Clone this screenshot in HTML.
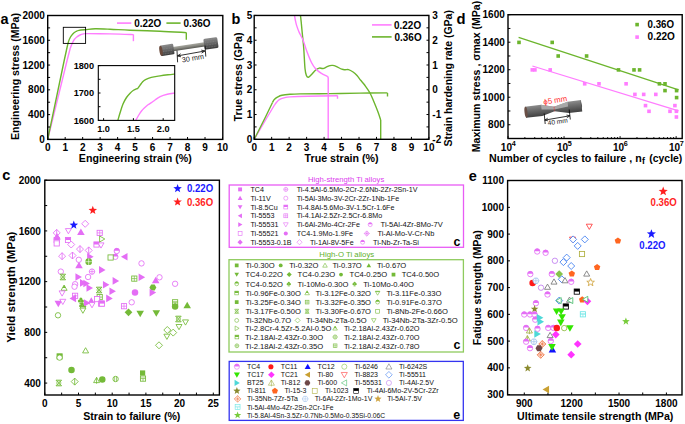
<!DOCTYPE html>
<html><head><meta charset="utf-8"><style>html,body{margin:0;padding:0;background:#fff;overflow:hidden}svg text{font-family:"Liberation Sans",sans-serif}</style></head><body>
<svg width="685" height="424" viewBox="0 0 685 424" style="display:block">
<rect width="685" height="424" fill="#fff"/>
<g font-family="Liberation Sans, sans-serif">
<path d="M47.70,139.40 L67.20,60.00 L70.30,48.00" stroke="#ff7dff" stroke-width="1.4" fill="none" stroke-linejoin="round" stroke-linecap="butt" />
<path d="M70.30,48.00 C70.65,47.17 71.73,44.42 72.40,43.00 C73.07,41.58 73.62,40.47 74.30,39.50 C74.98,38.53 75.55,37.95 76.50,37.20 C77.45,36.45 78.83,35.55 80.00,35.00 C81.17,34.45 82.50,34.13 83.50,33.90 C84.50,33.67 83.25,33.63 86.00,33.60 C88.75,33.57 94.33,33.62 100.00,33.70 C105.67,33.78 114.43,33.95 120.00,34.10 C125.57,34.25 131.17,34.52 133.40,34.60" stroke="#ff7dff" stroke-width="1.4" fill="none" stroke-linejoin="round"/>
<path d="M133.40,34.40 L133.40,41.20" stroke="#ff7dff" stroke-width="1.4" fill="none" stroke-linejoin="round" stroke-linecap="butt" />
<path d="M47.70,139.40 L64.30,60.00 L66.50,50.00" stroke="#6cb52d" stroke-width="1.4" fill="none" stroke-linejoin="round" stroke-linecap="butt" />
<path d="M66.50,50.00 C66.82,48.65 67.73,44.07 68.40,41.90 C69.07,39.73 69.73,38.37 70.50,37.00 C71.27,35.63 72.08,34.62 73.00,33.70 C73.92,32.78 75.02,32.05 76.00,31.50 C76.98,30.95 77.25,30.72 78.90,30.40 C80.55,30.08 83.18,29.87 85.90,29.60 C88.62,29.33 91.18,28.87 95.20,28.80 C99.22,28.73 104.20,28.97 110.00,29.20 C115.80,29.43 121.67,29.87 130.00,30.20 C138.33,30.53 150.62,30.80 160.00,31.20 C169.38,31.60 181.92,32.37 186.30,32.60" stroke="#6cb52d" stroke-width="1.4" fill="none" stroke-linejoin="round"/>
<path d="M186.30,32.40 L186.30,39.80" stroke="#6cb52d" stroke-width="1.4" fill="none" stroke-linejoin="round" stroke-linecap="butt" />
<rect x="63.30" y="27.30" width="22.30" height="16.10" stroke="#000" stroke-width="0.9" fill="none"/>
<rect x="47.70" y="15.50" width="175.10" height="123.90" stroke="#000" stroke-width="1.4" fill="none"/>
<line x1="47.70" y1="139.40" x2="47.70" y2="137.00" stroke="#000" stroke-width="1.0" />
<line x1="65.18" y1="139.40" x2="65.18" y2="137.00" stroke="#000" stroke-width="1.0" />
<line x1="82.66" y1="139.40" x2="82.66" y2="137.00" stroke="#000" stroke-width="1.0" />
<line x1="100.14" y1="139.40" x2="100.14" y2="137.00" stroke="#000" stroke-width="1.0" />
<line x1="117.62" y1="139.40" x2="117.62" y2="137.00" stroke="#000" stroke-width="1.0" />
<line x1="135.10" y1="139.40" x2="135.10" y2="137.00" stroke="#000" stroke-width="1.0" />
<line x1="152.58" y1="139.40" x2="152.58" y2="137.00" stroke="#000" stroke-width="1.0" />
<line x1="170.06" y1="139.40" x2="170.06" y2="137.00" stroke="#000" stroke-width="1.0" />
<line x1="187.54" y1="139.40" x2="187.54" y2="137.00" stroke="#000" stroke-width="1.0" />
<line x1="205.02" y1="139.40" x2="205.02" y2="137.00" stroke="#000" stroke-width="1.0" />
<line x1="222.50" y1="139.40" x2="222.50" y2="137.00" stroke="#000" stroke-width="1.0" />
<line x1="47.70" y1="139.40" x2="50.10" y2="139.40" stroke="#000" stroke-width="1.0" />
<line x1="47.70" y1="127.01" x2="50.10" y2="127.01" stroke="#000" stroke-width="1.0" />
<line x1="47.70" y1="114.62" x2="50.10" y2="114.62" stroke="#000" stroke-width="1.0" />
<line x1="47.70" y1="102.23" x2="50.10" y2="102.23" stroke="#000" stroke-width="1.0" />
<line x1="47.70" y1="89.84" x2="50.10" y2="89.84" stroke="#000" stroke-width="1.0" />
<line x1="47.70" y1="77.45" x2="50.10" y2="77.45" stroke="#000" stroke-width="1.0" />
<line x1="47.70" y1="65.06" x2="50.10" y2="65.06" stroke="#000" stroke-width="1.0" />
<line x1="47.70" y1="52.67" x2="50.10" y2="52.67" stroke="#000" stroke-width="1.0" />
<line x1="47.70" y1="40.28" x2="50.10" y2="40.28" stroke="#000" stroke-width="1.0" />
<line x1="47.70" y1="27.89" x2="50.10" y2="27.89" stroke="#000" stroke-width="1.0" />
<line x1="47.70" y1="15.50" x2="50.10" y2="15.50" stroke="#000" stroke-width="1.0" />
<text x="44.80" y="143.00" font-size="10" font-weight="bold" fill="#000" text-anchor="end" >0</text>
<text x="44.80" y="118.22" font-size="10" font-weight="bold" fill="#000" text-anchor="end" >400</text>
<text x="44.80" y="93.44" font-size="10" font-weight="bold" fill="#000" text-anchor="end" >800</text>
<text x="44.80" y="68.66" font-size="10" font-weight="bold" fill="#000" text-anchor="end" >1200</text>
<text x="44.80" y="43.88" font-size="10" font-weight="bold" fill="#000" text-anchor="end" >1600</text>
<text x="44.80" y="19.10" font-size="10" font-weight="bold" fill="#000" text-anchor="end" >2000</text>
<text x="47.70" y="150.50" font-size="10" font-weight="bold" fill="#000" text-anchor="middle" >0</text>
<text x="65.18" y="150.50" font-size="10" font-weight="bold" fill="#000" text-anchor="middle" >1</text>
<text x="82.66" y="150.50" font-size="10" font-weight="bold" fill="#000" text-anchor="middle" >2</text>
<text x="100.14" y="150.50" font-size="10" font-weight="bold" fill="#000" text-anchor="middle" >3</text>
<text x="117.62" y="150.50" font-size="10" font-weight="bold" fill="#000" text-anchor="middle" >4</text>
<text x="135.10" y="150.50" font-size="10" font-weight="bold" fill="#000" text-anchor="middle" >5</text>
<text x="152.58" y="150.50" font-size="10" font-weight="bold" fill="#000" text-anchor="middle" >6</text>
<text x="170.06" y="150.50" font-size="10" font-weight="bold" fill="#000" text-anchor="middle" >7</text>
<text x="187.54" y="150.50" font-size="10" font-weight="bold" fill="#000" text-anchor="middle" >8</text>
<text x="205.02" y="150.50" font-size="10" font-weight="bold" fill="#000" text-anchor="middle" >9</text>
<text x="222.50" y="150.50" font-size="10" font-weight="bold" fill="#000" text-anchor="middle" >10</text>
<text x="78.80" y="161.50" font-size="10.6" font-weight="bold" fill="#000" textLength="113" lengthAdjust="spacingAndGlyphs" >Engineering strain (%)</text>
<text transform="translate(18.60,140.00) rotate(-90)" font-size="10.6" font-weight="bold" fill="#000" textLength="127" lengthAdjust="spacingAndGlyphs" >Engineering stress (MPa)</text>
<text x="0.60" y="23.60" font-size="14.5" font-weight="bold" fill="#000" >a</text>
<line x1="117.00" y1="23.10" x2="131.30" y2="23.10" stroke="#ff7dff" stroke-width="1.6" />
<text x="134.20" y="26.70" font-size="10" font-weight="bold" fill="#000" textLength="27" lengthAdjust="spacingAndGlyphs" >0.22O</text>
<line x1="166.40" y1="23.10" x2="180.60" y2="23.10" stroke="#6cb52d" stroke-width="1.6" />
<text x="183.50" y="26.70" font-size="10" font-weight="bold" fill="#000" textLength="27" lengthAdjust="spacingAndGlyphs" >0.36O</text>
<clipPath id="ci"><rect x="98.3" y="65.6" width="76.39999999999999" height="54.80000000000001"/></clipPath>
<g clip-path="url(#ci)">
<path d="M117.70,121.00 C118.08,119.67 119.12,115.83 120.00,113.00 C120.88,110.17 121.92,106.58 123.00,104.00 C124.08,101.42 125.32,99.30 126.50,97.50 C127.68,95.70 128.93,94.40 130.10,93.20 C131.27,92.00 132.47,91.03 133.50,90.30 C134.53,89.57 135.62,89.08 136.30,88.80 C136.98,88.52 136.98,89.18 137.60,88.60 C138.22,88.02 139.18,86.40 140.00,85.30 C140.82,84.20 141.58,82.95 142.50,82.00 C143.42,81.05 144.03,80.37 145.50,79.60 C146.97,78.83 148.88,78.02 151.30,77.40 C153.72,76.78 157.22,76.33 160.00,75.90 C162.78,75.47 165.50,75.12 168.00,74.80 C170.50,74.48 173.83,74.13 175.00,74.00" stroke="#6cb52d" stroke-width="1.4" fill="none" stroke-linejoin="round"/>
<path d="M135.40,121.00 C135.92,120.08 137.48,117.17 138.50,115.50 C139.52,113.83 140.53,112.25 141.50,111.00 C142.47,109.75 143.22,109.03 144.30,108.00 C145.38,106.97 146.83,105.68 148.00,104.80 C149.17,103.92 150.13,103.50 151.30,102.70 C152.47,101.90 153.52,101.02 155.00,100.00 C156.48,98.98 158.15,97.55 160.20,96.60 C162.25,95.65 164.83,94.90 167.30,94.30 C169.77,93.70 173.72,93.22 175.00,93.00" stroke="#ff7dff" stroke-width="1.4" fill="none" stroke-linejoin="round"/>
</g>
<rect x="98.30" y="65.60" width="76.40" height="54.80" stroke="#000" stroke-width="1.1" fill="none"/>
<line x1="103.60" y1="120.40" x2="103.60" y2="118.20" stroke="#000" stroke-width="1.0" />
<text x="103.60" y="131.60" font-size="9.2" font-weight="bold" fill="#000" text-anchor="middle" >1.0</text>
<line x1="133.40" y1="120.40" x2="133.40" y2="118.20" stroke="#000" stroke-width="1.0" />
<text x="133.40" y="131.60" font-size="9.2" font-weight="bold" fill="#000" text-anchor="middle" >1.5</text>
<line x1="163.20" y1="120.40" x2="163.20" y2="118.20" stroke="#000" stroke-width="1.0" />
<text x="163.20" y="131.60" font-size="9.2" font-weight="bold" fill="#000" text-anchor="middle" >2.0</text>
<line x1="98.30" y1="120.40" x2="100.50" y2="120.40" stroke="#000" stroke-width="1.0" />
<line x1="98.30" y1="106.70" x2="100.50" y2="106.70" stroke="#000" stroke-width="1.0" />
<line x1="98.30" y1="93.00" x2="100.50" y2="93.00" stroke="#000" stroke-width="1.0" />
<line x1="98.30" y1="79.30" x2="100.50" y2="79.30" stroke="#000" stroke-width="1.0" />
<line x1="98.30" y1="65.60" x2="100.50" y2="65.60" stroke="#000" stroke-width="1.0" />
<text x="94.10" y="123.80" font-size="9.2" font-weight="bold" fill="#000" text-anchor="end" >1600</text>
<text x="94.10" y="96.40" font-size="9.2" font-weight="bold" fill="#000" text-anchor="end" >1700</text>
<text x="94.10" y="69.00" font-size="9.2" font-weight="bold" fill="#000" text-anchor="end" >1800</text>
<clipPath id="cb"><rect x="254.2" y="15.45" width="174.7" height="123.85000000000001"/></clipPath>
<g clip-path="url(#cb)">
<path d="M254.20,139.30 L267.30,117.00 L274.50,105.00" stroke="#ff7dff" stroke-width="1.4" fill="none" stroke-linejoin="round" stroke-linecap="butt" />
<path d="M274.50,105.00 C274.75,104.67 275.33,103.78 276.00,103.00 C276.67,102.22 277.62,101.02 278.50,100.30 C279.38,99.58 280.22,99.15 281.30,98.70 C282.38,98.25 283.55,97.90 285.00,97.60 C286.45,97.30 286.23,97.13 290.00,96.90 C293.77,96.67 299.68,96.40 307.60,96.20 C315.52,96.00 332.52,95.78 337.50,95.70" stroke="#ff7dff" stroke-width="1.4" fill="none" stroke-linejoin="round"/>
<path d="M337.50,95.60 L337.50,98.80" stroke="#ff7dff" stroke-width="1.4" fill="none" stroke-linejoin="round" stroke-linecap="butt" />
<path d="M254.20,139.30 L265.50,117.00 L272.50,102.50" stroke="#6cb52d" stroke-width="1.4" fill="none" stroke-linejoin="round" stroke-linecap="butt" />
<path d="M272.50,102.50 C272.80,102.00 273.42,100.43 274.30,99.50 C275.18,98.57 276.52,97.62 277.80,96.90 C279.08,96.18 279.97,95.63 282.00,95.20 C284.03,94.77 287.00,94.52 290.00,94.30 C293.00,94.08 293.33,94.02 300.00,93.90 C306.67,93.78 320.00,93.73 330.00,93.60 C340.00,93.47 350.42,93.22 360.00,93.10 C369.58,92.98 382.92,92.93 387.50,92.90" stroke="#6cb52d" stroke-width="1.4" fill="none" stroke-linejoin="round"/>
<path d="M387.50,92.90 L387.50,96.50" stroke="#6cb52d" stroke-width="1.4" fill="none" stroke-linejoin="round" stroke-linecap="butt" />
<path d="M300.30,14.00 C300.45,15.33 300.88,18.90 301.20,22.00 C301.52,25.10 301.78,28.32 302.20,32.60 C302.62,36.88 303.23,41.72 303.70,47.70 C304.17,53.68 304.55,63.87 305.00,68.50 C305.45,73.13 305.82,74.05 306.40,75.50 C306.98,76.95 307.63,77.37 308.50,77.20 C309.37,77.03 310.45,75.65 311.60,74.50 C312.75,73.35 314.13,71.37 315.40,70.30 C316.67,69.23 317.95,68.40 319.20,68.10 C320.45,67.80 321.65,68.70 322.90,68.50 C324.15,68.30 325.52,67.38 326.70,66.90 C327.88,66.42 329.02,65.85 330.00,65.60 C330.98,65.35 331.58,65.27 332.60,65.40 C333.62,65.53 334.57,65.77 336.10,66.40 C337.63,67.03 340.32,68.63 341.80,69.20 C343.28,69.77 343.88,69.73 345.00,69.80 C346.12,69.87 347.15,69.23 348.50,69.60 C349.85,69.97 351.68,71.02 353.10,72.00 C354.52,72.98 355.73,74.12 357.00,75.50 C358.27,76.88 359.37,78.63 360.70,80.30 C362.03,81.97 363.45,83.38 365.00,85.50 C366.55,87.62 368.50,90.25 370.00,93.00 C371.50,95.75 372.67,98.83 374.00,102.00 C375.33,105.17 376.88,109.00 378.00,112.00 C379.12,115.00 380.25,118.67 380.70,120.00" stroke="#6cb52d" stroke-width="1.4" fill="none" stroke-linejoin="round"/>
<path d="M380.70,120.00 L380.70,141.00" stroke="#6cb52d" stroke-width="1.4" fill="none" stroke-linejoin="round" stroke-linecap="butt" />
<path d="M294.30,14.00 C294.47,15.00 294.93,18.15 295.30,20.00 C295.67,21.85 295.83,23.00 296.50,25.10 C297.17,27.20 298.20,30.08 299.30,32.60 C300.40,35.12 301.83,37.05 303.10,40.20 C304.37,43.35 305.48,47.73 306.90,51.50 C308.32,55.27 310.18,59.97 311.60,62.80 C313.02,65.63 313.83,66.77 315.40,68.50 C316.97,70.23 318.93,71.85 321.00,73.20 C323.07,74.55 326.67,76.03 327.80,76.60" stroke="#ff7dff" stroke-width="1.4" fill="none" stroke-linejoin="round"/>
<path d="M327.80,76.40 L328.20,78.00 L328.20,141.00" stroke="#ff7dff" stroke-width="1.4" fill="none" stroke-linejoin="round" stroke-linecap="butt" />
</g>
<rect x="254.20" y="15.45" width="174.70" height="123.85" stroke="#000" stroke-width="1.4" fill="none"/>
<line x1="254.20" y1="139.30" x2="254.20" y2="136.90" stroke="#000" stroke-width="1.0" />
<text x="254.20" y="150.50" font-size="10" font-weight="bold" fill="#000" text-anchor="middle" >0</text>
<line x1="271.67" y1="139.30" x2="271.67" y2="136.90" stroke="#000" stroke-width="1.0" />
<text x="271.67" y="150.50" font-size="10" font-weight="bold" fill="#000" text-anchor="middle" >1</text>
<line x1="289.14" y1="139.30" x2="289.14" y2="136.90" stroke="#000" stroke-width="1.0" />
<text x="289.14" y="150.50" font-size="10" font-weight="bold" fill="#000" text-anchor="middle" >2</text>
<line x1="306.61" y1="139.30" x2="306.61" y2="136.90" stroke="#000" stroke-width="1.0" />
<text x="306.61" y="150.50" font-size="10" font-weight="bold" fill="#000" text-anchor="middle" >3</text>
<line x1="324.08" y1="139.30" x2="324.08" y2="136.90" stroke="#000" stroke-width="1.0" />
<text x="324.08" y="150.50" font-size="10" font-weight="bold" fill="#000" text-anchor="middle" >4</text>
<line x1="341.55" y1="139.30" x2="341.55" y2="136.90" stroke="#000" stroke-width="1.0" />
<text x="341.55" y="150.50" font-size="10" font-weight="bold" fill="#000" text-anchor="middle" >5</text>
<line x1="359.02" y1="139.30" x2="359.02" y2="136.90" stroke="#000" stroke-width="1.0" />
<text x="359.02" y="150.50" font-size="10" font-weight="bold" fill="#000" text-anchor="middle" >6</text>
<line x1="376.49" y1="139.30" x2="376.49" y2="136.90" stroke="#000" stroke-width="1.0" />
<text x="376.49" y="150.50" font-size="10" font-weight="bold" fill="#000" text-anchor="middle" >7</text>
<line x1="393.96" y1="139.30" x2="393.96" y2="136.90" stroke="#000" stroke-width="1.0" />
<text x="393.96" y="150.50" font-size="10" font-weight="bold" fill="#000" text-anchor="middle" >8</text>
<line x1="411.43" y1="139.30" x2="411.43" y2="136.90" stroke="#000" stroke-width="1.0" />
<text x="411.43" y="150.50" font-size="10" font-weight="bold" fill="#000" text-anchor="middle" >9</text>
<line x1="428.90" y1="139.30" x2="428.90" y2="136.90" stroke="#000" stroke-width="1.0" />
<text x="428.90" y="150.50" font-size="10" font-weight="bold" fill="#000" text-anchor="middle" >10</text>
<line x1="254.20" y1="139.30" x2="256.60" y2="139.30" stroke="#000" stroke-width="1.0" />
<line x1="428.90" y1="139.30" x2="426.50" y2="139.30" stroke="#000" stroke-width="1.0" />
<line x1="254.20" y1="126.92" x2="256.60" y2="126.92" stroke="#000" stroke-width="1.0" />
<line x1="428.90" y1="126.92" x2="426.50" y2="126.92" stroke="#000" stroke-width="1.0" />
<line x1="254.20" y1="114.53" x2="256.60" y2="114.53" stroke="#000" stroke-width="1.0" />
<line x1="428.90" y1="114.53" x2="426.50" y2="114.53" stroke="#000" stroke-width="1.0" />
<line x1="254.20" y1="102.15" x2="256.60" y2="102.15" stroke="#000" stroke-width="1.0" />
<line x1="428.90" y1="102.15" x2="426.50" y2="102.15" stroke="#000" stroke-width="1.0" />
<line x1="254.20" y1="89.76" x2="256.60" y2="89.76" stroke="#000" stroke-width="1.0" />
<line x1="428.90" y1="89.76" x2="426.50" y2="89.76" stroke="#000" stroke-width="1.0" />
<line x1="254.20" y1="77.38" x2="256.60" y2="77.38" stroke="#000" stroke-width="1.0" />
<line x1="428.90" y1="77.38" x2="426.50" y2="77.38" stroke="#000" stroke-width="1.0" />
<line x1="254.20" y1="64.99" x2="256.60" y2="64.99" stroke="#000" stroke-width="1.0" />
<line x1="428.90" y1="64.99" x2="426.50" y2="64.99" stroke="#000" stroke-width="1.0" />
<line x1="254.20" y1="52.61" x2="256.60" y2="52.61" stroke="#000" stroke-width="1.0" />
<line x1="428.90" y1="52.61" x2="426.50" y2="52.61" stroke="#000" stroke-width="1.0" />
<line x1="254.20" y1="40.22" x2="256.60" y2="40.22" stroke="#000" stroke-width="1.0" />
<line x1="428.90" y1="40.22" x2="426.50" y2="40.22" stroke="#000" stroke-width="1.0" />
<line x1="254.20" y1="27.84" x2="256.60" y2="27.84" stroke="#000" stroke-width="1.0" />
<line x1="428.90" y1="27.84" x2="426.50" y2="27.84" stroke="#000" stroke-width="1.0" />
<line x1="254.20" y1="15.45" x2="256.60" y2="15.45" stroke="#000" stroke-width="1.0" />
<line x1="428.90" y1="15.45" x2="426.50" y2="15.45" stroke="#000" stroke-width="1.0" />
<text x="252.20" y="142.90" font-size="10" font-weight="bold" fill="#000" text-anchor="end" >0</text>
<text x="252.20" y="118.13" font-size="10" font-weight="bold" fill="#000" text-anchor="end" >1</text>
<text x="252.20" y="93.36" font-size="10" font-weight="bold" fill="#000" text-anchor="end" >2</text>
<text x="252.20" y="68.59" font-size="10" font-weight="bold" fill="#000" text-anchor="end" >3</text>
<text x="252.20" y="43.82" font-size="10" font-weight="bold" fill="#000" text-anchor="end" >4</text>
<text x="252.20" y="19.05" font-size="10" font-weight="bold" fill="#000" text-anchor="end" >5</text>
<text x="432.30" y="142.90" font-size="10" font-weight="bold" fill="#000" >-2</text>
<text x="432.30" y="118.13" font-size="10" font-weight="bold" fill="#000" >-1</text>
<text x="432.30" y="93.36" font-size="10" font-weight="bold" fill="#000" >0</text>
<text x="432.30" y="68.59" font-size="10" font-weight="bold" fill="#000" >1</text>
<text x="432.30" y="43.82" font-size="10" font-weight="bold" fill="#000" >2</text>
<text x="432.30" y="19.05" font-size="10" font-weight="bold" fill="#000" >3</text>
<text x="304.60" y="161.50" font-size="10.6" font-weight="bold" fill="#000" textLength="74" lengthAdjust="spacingAndGlyphs" >True strain (%)</text>
<text transform="translate(242.00,121.40) rotate(-90)" font-size="10.6" font-weight="bold" fill="#000" textLength="89" lengthAdjust="spacingAndGlyphs" >True stress (GPa)</text>
<text transform="translate(452.40,146.60) rotate(-90)" font-size="10.6" font-weight="bold" fill="#000" textLength="136.5" lengthAdjust="spacingAndGlyphs" >Strain hardening rate (GPa)</text>
<text x="231.50" y="23.60" font-size="14.5" font-weight="bold" fill="#000" >b</text>
<line x1="372.00" y1="24.90" x2="391.60" y2="24.90" stroke="#ff7dff" stroke-width="1.6" />
<text x="394.10" y="28.50" font-size="10" font-weight="bold" fill="#000" textLength="27" lengthAdjust="spacingAndGlyphs" >0.22O</text>
<line x1="372.00" y1="36.90" x2="391.60" y2="36.90" stroke="#6cb52d" stroke-width="1.6" />
<text x="394.60" y="40.50" font-size="10" font-weight="bold" fill="#000" textLength="27" lengthAdjust="spacingAndGlyphs" >0.36O</text>
<clipPath id="cd"><rect x="508.0" y="14.7" width="174.20000000000005" height="123.8"/></clipPath>
<path d="M518.60,37.40 L678.60,89.80" stroke="#6cb52d" stroke-width="1.3" fill="none" stroke-linejoin="round" stroke-linecap="butt" />
<path d="M532.40,66.00 L678.60,110.90" stroke="#ff7dff" stroke-width="1.3" fill="none" stroke-linejoin="round" stroke-linecap="butt" />
<rect x="517.20" y="40.60" width="3.6" height="3.6" fill="#6cb52d"/>
<rect x="550.40" y="40.60" width="3.6" height="3.6" fill="#6cb52d"/>
<rect x="556.40" y="54.20" width="3.6" height="3.6" fill="#6cb52d"/>
<rect x="584.80" y="54.20" width="3.6" height="3.6" fill="#6cb52d"/>
<rect x="616.70" y="68.10" width="3.6" height="3.6" fill="#6cb52d"/>
<rect x="632.20" y="68.10" width="3.6" height="3.6" fill="#6cb52d"/>
<rect x="637.80" y="68.10" width="3.6" height="3.6" fill="#6cb52d"/>
<rect x="657.60" y="82.00" width="3.6" height="3.6" fill="#6cb52d"/>
<rect x="663.20" y="82.00" width="3.6" height="3.6" fill="#6cb52d"/>
<rect x="663.20" y="88.80" width="3.6" height="3.6" fill="#6cb52d"/>
<rect x="674.80" y="88.80" width="3.6" height="3.6" fill="#6cb52d"/>
<rect x="674.80" y="95.80" width="3.6" height="3.6" fill="#6cb52d"/>
<rect x="530.50" y="68.10" width="3.6" height="3.6" fill="#ff7dff"/>
<rect x="533.10" y="68.10" width="3.6" height="3.6" fill="#ff7dff"/>
<rect x="548.40" y="68.10" width="3.6" height="3.6" fill="#ff7dff"/>
<rect x="582.90" y="82.00" width="3.6" height="3.6" fill="#ff7dff"/>
<rect x="597.20" y="82.00" width="3.6" height="3.6" fill="#ff7dff"/>
<rect x="624.30" y="82.00" width="3.6" height="3.6" fill="#ff7dff"/>
<rect x="633.10" y="92.60" width="3.6" height="3.6" fill="#ff7dff"/>
<rect x="641.90" y="92.60" width="3.6" height="3.6" fill="#ff7dff"/>
<rect x="654.00" y="92.60" width="3.6" height="3.6" fill="#ff7dff"/>
<rect x="643.70" y="103.80" width="3.6" height="3.6" fill="#ff7dff"/>
<rect x="647.20" y="109.50" width="3.6" height="3.6" fill="#ff7dff"/>
<rect x="673.10" y="103.80" width="3.6" height="3.6" fill="#ff7dff"/>
<rect x="668.20" y="109.50" width="3.6" height="3.6" fill="#ff7dff"/>
<rect x="674.60" y="109.50" width="3.6" height="3.6" fill="#ff7dff"/>
<rect x="674.60" y="115.20" width="3.6" height="3.6" fill="#ff7dff"/>
<rect x="508.00" y="14.70" width="174.20" height="123.80" stroke="#000" stroke-width="1.4" fill="none"/>
<line x1="508.00" y1="138.50" x2="510.40" y2="138.50" stroke="#000" stroke-width="1.0" />
<line x1="508.00" y1="124.74" x2="510.40" y2="124.74" stroke="#000" stroke-width="1.0" />
<line x1="508.00" y1="110.99" x2="510.40" y2="110.99" stroke="#000" stroke-width="1.0" />
<line x1="508.00" y1="97.23" x2="510.40" y2="97.23" stroke="#000" stroke-width="1.0" />
<line x1="508.00" y1="83.48" x2="510.40" y2="83.48" stroke="#000" stroke-width="1.0" />
<line x1="508.00" y1="69.72" x2="510.40" y2="69.72" stroke="#000" stroke-width="1.0" />
<line x1="508.00" y1="55.97" x2="510.40" y2="55.97" stroke="#000" stroke-width="1.0" />
<line x1="508.00" y1="42.21" x2="510.40" y2="42.21" stroke="#000" stroke-width="1.0" />
<line x1="508.00" y1="28.46" x2="510.40" y2="28.46" stroke="#000" stroke-width="1.0" />
<line x1="508.00" y1="14.70" x2="510.40" y2="14.70" stroke="#000" stroke-width="1.0" />
<text x="504.80" y="128.34" font-size="10" font-weight="bold" fill="#000" text-anchor="end" >800</text>
<text x="504.80" y="100.83" font-size="10" font-weight="bold" fill="#000" text-anchor="end" >1000</text>
<text x="504.80" y="73.32" font-size="10" font-weight="bold" fill="#000" text-anchor="end" >1200</text>
<text x="504.80" y="45.81" font-size="10" font-weight="bold" fill="#000" text-anchor="end" >1400</text>
<text x="504.80" y="18.30" font-size="10" font-weight="bold" fill="#000" text-anchor="end" >1600</text>
<line x1="508.00" y1="138.50" x2="508.00" y2="136.10" stroke="#000" stroke-width="0.9" />
<line x1="524.87" y1="138.50" x2="524.87" y2="137.00" stroke="#000" stroke-width="0.9" />
<line x1="534.74" y1="138.50" x2="534.74" y2="137.00" stroke="#000" stroke-width="0.9" />
<line x1="541.75" y1="138.50" x2="541.75" y2="137.00" stroke="#000" stroke-width="0.9" />
<line x1="547.18" y1="138.50" x2="547.18" y2="137.00" stroke="#000" stroke-width="0.9" />
<line x1="551.62" y1="138.50" x2="551.62" y2="137.00" stroke="#000" stroke-width="0.9" />
<line x1="555.37" y1="138.50" x2="555.37" y2="137.00" stroke="#000" stroke-width="0.9" />
<line x1="558.62" y1="138.50" x2="558.62" y2="137.00" stroke="#000" stroke-width="0.9" />
<line x1="561.49" y1="138.50" x2="561.49" y2="137.00" stroke="#000" stroke-width="0.9" />
<line x1="564.05" y1="138.50" x2="564.05" y2="136.10" stroke="#000" stroke-width="0.9" />
<line x1="580.92" y1="138.50" x2="580.92" y2="137.00" stroke="#000" stroke-width="0.9" />
<line x1="590.79" y1="138.50" x2="590.79" y2="137.00" stroke="#000" stroke-width="0.9" />
<line x1="597.80" y1="138.50" x2="597.80" y2="137.00" stroke="#000" stroke-width="0.9" />
<line x1="603.23" y1="138.50" x2="603.23" y2="137.00" stroke="#000" stroke-width="0.9" />
<line x1="607.67" y1="138.50" x2="607.67" y2="137.00" stroke="#000" stroke-width="0.9" />
<line x1="611.42" y1="138.50" x2="611.42" y2="137.00" stroke="#000" stroke-width="0.9" />
<line x1="614.67" y1="138.50" x2="614.67" y2="137.00" stroke="#000" stroke-width="0.9" />
<line x1="617.54" y1="138.50" x2="617.54" y2="137.00" stroke="#000" stroke-width="0.9" />
<line x1="620.10" y1="138.50" x2="620.10" y2="136.10" stroke="#000" stroke-width="0.9" />
<line x1="636.97" y1="138.50" x2="636.97" y2="137.00" stroke="#000" stroke-width="0.9" />
<line x1="646.84" y1="138.50" x2="646.84" y2="137.00" stroke="#000" stroke-width="0.9" />
<line x1="653.85" y1="138.50" x2="653.85" y2="137.00" stroke="#000" stroke-width="0.9" />
<line x1="659.28" y1="138.50" x2="659.28" y2="137.00" stroke="#000" stroke-width="0.9" />
<line x1="663.72" y1="138.50" x2="663.72" y2="137.00" stroke="#000" stroke-width="0.9" />
<line x1="667.47" y1="138.50" x2="667.47" y2="137.00" stroke="#000" stroke-width="0.9" />
<line x1="670.72" y1="138.50" x2="670.72" y2="137.00" stroke="#000" stroke-width="0.9" />
<line x1="673.59" y1="138.50" x2="673.59" y2="137.00" stroke="#000" stroke-width="0.9" />
<line x1="676.15" y1="138.50" x2="676.15" y2="136.10" stroke="#000" stroke-width="0.9" />
<text x="506.40" y="150.50" font-size="10" font-weight="bold" fill="#000" text-anchor="middle" >10</text>
<text x="511.70" y="145.60" font-size="7.2" font-weight="bold" fill="#000" >4</text>
<text x="562.45" y="150.50" font-size="10" font-weight="bold" fill="#000" text-anchor="middle" >10</text>
<text x="567.75" y="145.60" font-size="7.2" font-weight="bold" fill="#000" >5</text>
<text x="618.50" y="150.50" font-size="10" font-weight="bold" fill="#000" text-anchor="middle" >10</text>
<text x="623.80" y="145.60" font-size="7.2" font-weight="bold" fill="#000" >6</text>
<text x="674.55" y="150.50" font-size="10" font-weight="bold" fill="#000" text-anchor="middle" >10</text>
<text x="679.85" y="145.60" font-size="7.2" font-weight="bold" fill="#000" >7</text>
<text x="489.10" y="161.60" font-size="10.6" font-weight="bold" fill="#000" textLength="152.6" lengthAdjust="spacingAndGlyphs" >Number of cycles to failure , n</text>
<text x="641.90" y="163.60" font-size="8.8" font-weight="bold" fill="#000" >f</text>
<text x="649.30" y="161.60" font-size="10.6" font-weight="bold" fill="#000" textLength="33.0" lengthAdjust="spacingAndGlyphs" >(cycle)</text>
<text transform="translate(479.80,152.20) rotate(-90)" font-size="10.0" font-weight="bold" fill="#000" textLength="151.4" lengthAdjust="spacingAndGlyphs" >Maximum stress , σmax (MPa)</text>
<text x="456.60" y="23.60" font-size="14.8" font-weight="bold" fill="#000" >d</text>
<rect x="635.3" y="22.8" width="3.6" height="3.6" fill="#6cb52d"/>
<text x="647.60" y="27.70" font-size="10" font-weight="bold" fill="#000" textLength="26.5" lengthAdjust="spacingAndGlyphs" >0.36O</text>
<rect x="635.3" y="35.3" width="3.6" height="3.6" fill="#ff7dff"/>
<text x="647.60" y="39.50" font-size="10" font-weight="bold" fill="#000" textLength="27.3" lengthAdjust="spacingAndGlyphs" >0.22O</text>
<defs><linearGradient id="rodg" x1="0" y1="0" x2="0" y2="1"><stop offset="0" stop-color="#a6a69e"/><stop offset="0.45" stop-color="#8c8c85"/><stop offset="1" stop-color="#585852"/></linearGradient><linearGradient id="gripg" x1="0" y1="0" x2="0" y2="1"><stop offset="0" stop-color="#8a8a8a"/><stop offset="0.45" stop-color="#6a6a6a"/><stop offset="1" stop-color="#3a3a3a"/></linearGradient><linearGradient id="specd" x1="0" y1="0" x2="0" y2="1"><stop offset="0" stop-color="#8c8c8c"/><stop offset="0.4" stop-color="#6c6c6c"/><stop offset="1" stop-color="#404040"/></linearGradient></defs>
<g transform="translate(160.0,51.0) rotate(-8.5)">
<rect x="13" y="-2.1" width="32" height="4.2" fill="url(#rodg)"/>
<rect x="0.5" y="-5.3" width="13.5" height="10.6" rx="1.2" fill="url(#gripg)"/>
<rect x="44.5" y="-5.4" width="14" height="10.8" rx="1.5" fill="url(#gripg)"/>
<ellipse cx="1.0" cy="0" rx="1.6" ry="5.2" fill="#6a4a3c"/>
<path d="M3,-4 L12,-4 M3,-1.5 L12,-1.5 M3,1 L12,1 M3,3.5 L12,3.5 M46,-4 L57,-4 M46,-1.5 L57,-1.5 M46,1 L57,1 M46,3.5 L57,3.5" stroke="#8f8f8f" stroke-width="0.5" stroke-dasharray="0.8,0.8"/>
</g>
<line x1="177.00" y1="50.50" x2="177.60" y2="62.30" stroke="#000" stroke-width="0.8" />
<line x1="205.00" y1="45.50" x2="205.80" y2="56.60" stroke="#000" stroke-width="0.8" />
<line x1="177.50" y1="55.90" x2="204.80" y2="51.00" stroke="#000" stroke-width="0.8" />
<path d="M177.5,55.9 l3.2,-2.1 M177.5,55.9 l3.5,0.9 M204.8,51.0 l-3.2,2.1 M204.8,51.0 l-3.5,-0.9" stroke="#000" stroke-width="0.8" fill="none"/>
<text x="182.30" y="62.60" font-size="7.3" font-weight="normal" fill="#222" transform="rotate(-10 182.3 62.6)">30 mm</text>
<g transform="translate(525.0,112.3) rotate(-6.5)">
<path d="M0.5,-5.6 L16.8,-5.6 L29.5,-2.3 L43.5,-5.6 L57,-5.8 L57,5.6 L43.5,5.6 L29.5,2.3 L16.8,5.6 L0.5,5.6 Z" fill="url(#specd)"/>
<path d="M16.8,-5.6 L29.5,-2.3 L43.5,-5.6 L43.5,-1 L29.5,0.6 L16.8,-1 Z" fill="#b0b0b0" opacity="0.85"/>
<path d="M56.5,-5.8 Q58.3,0 56.5,5.6" fill="#4a4a4a" stroke="none"/>
<ellipse cx="1.0" cy="0" rx="1.5" ry="5.5" fill="#6a4f45"/>
<line x1="29.5" y1="-2.3" x2="29.5" y2="2.3" stroke="#ff2020" stroke-width="0.8" stroke-dasharray="1,1"/>
</g>
<text x="543.80" y="104.60" font-size="7.8" font-weight="normal" fill="#ff2a2a" transform="rotate(-9 544.2 104.5)">ϕ5 mm</text>
<line x1="544.20" y1="113.50" x2="545.20" y2="124.00" stroke="#000" stroke-width="0.8" />
<line x1="569.20" y1="109.50" x2="570.30" y2="119.50" stroke="#000" stroke-width="0.8" />
<line x1="544.80" y1="120.10" x2="569.80" y2="115.80" stroke="#000" stroke-width="0.8" />
<path d="M544.8,120.1 l3.0,-2.0 M544.8,120.1 l3.3,0.8 M569.8,115.8 l-3.0,2.0 M569.8,115.8 l-3.3,-0.8" stroke="#000" stroke-width="0.7" fill="none"/>
<text x="548.00" y="125.30" font-size="6.6" font-weight="normal" fill="#222" transform="rotate(-8 548 125.3)">40 mm</text>
<rect x="44.80" y="180.20" width="174.60" height="214.80" stroke="#000" stroke-width="1.4" fill="none"/>
<line x1="44.80" y1="395.00" x2="44.80" y2="392.60" stroke="#000" stroke-width="1.0" />
<line x1="61.65" y1="395.00" x2="61.65" y2="392.60" stroke="#000" stroke-width="1.0" />
<line x1="78.50" y1="395.00" x2="78.50" y2="392.60" stroke="#000" stroke-width="1.0" />
<line x1="95.35" y1="395.00" x2="95.35" y2="392.60" stroke="#000" stroke-width="1.0" />
<line x1="112.20" y1="395.00" x2="112.20" y2="392.60" stroke="#000" stroke-width="1.0" />
<line x1="129.05" y1="395.00" x2="129.05" y2="392.60" stroke="#000" stroke-width="1.0" />
<line x1="145.90" y1="395.00" x2="145.90" y2="392.60" stroke="#000" stroke-width="1.0" />
<line x1="162.75" y1="395.00" x2="162.75" y2="392.60" stroke="#000" stroke-width="1.0" />
<line x1="179.60" y1="395.00" x2="179.60" y2="392.60" stroke="#000" stroke-width="1.0" />
<line x1="196.45" y1="395.00" x2="196.45" y2="392.60" stroke="#000" stroke-width="1.0" />
<line x1="213.30" y1="395.00" x2="213.30" y2="392.60" stroke="#000" stroke-width="1.0" />
<text x="44.80" y="407.30" font-size="10" font-weight="bold" fill="#000" text-anchor="middle" >0</text>
<text x="78.50" y="407.30" font-size="10" font-weight="bold" fill="#000" text-anchor="middle" >5</text>
<text x="112.20" y="407.30" font-size="10" font-weight="bold" fill="#000" text-anchor="middle" >10</text>
<text x="145.90" y="407.30" font-size="10" font-weight="bold" fill="#000" text-anchor="middle" >15</text>
<text x="179.60" y="407.30" font-size="10" font-weight="bold" fill="#000" text-anchor="middle" >20</text>
<text x="213.30" y="407.30" font-size="10" font-weight="bold" fill="#000" text-anchor="middle" >25</text>
<line x1="44.80" y1="383.08" x2="47.20" y2="383.08" stroke="#000" stroke-width="1.0" />
<line x1="44.80" y1="357.72" x2="47.20" y2="357.72" stroke="#000" stroke-width="1.0" />
<line x1="44.80" y1="332.36" x2="47.20" y2="332.36" stroke="#000" stroke-width="1.0" />
<line x1="44.80" y1="307.00" x2="47.20" y2="307.00" stroke="#000" stroke-width="1.0" />
<line x1="44.80" y1="281.64" x2="47.20" y2="281.64" stroke="#000" stroke-width="1.0" />
<line x1="44.80" y1="256.28" x2="47.20" y2="256.28" stroke="#000" stroke-width="1.0" />
<line x1="44.80" y1="230.92" x2="47.20" y2="230.92" stroke="#000" stroke-width="1.0" />
<line x1="44.80" y1="205.56" x2="47.20" y2="205.56" stroke="#000" stroke-width="1.0" />
<line x1="44.80" y1="180.20" x2="47.20" y2="180.20" stroke="#000" stroke-width="1.0" />
<text x="40.90" y="386.68" font-size="10" font-weight="bold" fill="#000" text-anchor="end" >400</text>
<text x="40.90" y="335.96" font-size="10" font-weight="bold" fill="#000" text-anchor="end" >800</text>
<text x="40.90" y="285.24" font-size="10" font-weight="bold" fill="#000" text-anchor="end" >1200</text>
<text x="40.90" y="234.52" font-size="10" font-weight="bold" fill="#000" text-anchor="end" >1600</text>
<text x="40.90" y="183.80" font-size="10" font-weight="bold" fill="#000" text-anchor="end" >2000</text>
<text x="83.20" y="420.40" font-size="10.6" font-weight="bold" fill="#000" textLength="97.2" lengthAdjust="spacingAndGlyphs" >Strain to failure (%)</text>
<text transform="translate(14.50,342.80) rotate(-90)" font-size="11" font-weight="bold" fill="#000" textLength="111.2" lengthAdjust="spacingAndGlyphs" >Yield strength (MPa)</text>
<text x="2.30" y="180.30" font-size="14.5" font-weight="bold" fill="#000" >c</text>
<polygon points="85.20,220.30 88.70,223.80 85.20,227.30 81.70,223.80" fill="#fff" stroke="#e46ef5" stroke-width="0.85"/>
<polygon points="68.40,233.81 65.39,228.60 71.41,228.60" fill="#fff" stroke="#e46ef5" stroke-width="0.85" stroke-linejoin="miter"/>
<polygon points="80.90,228.54 84.68,235.09 77.12,235.09" fill="#e46ef5" stroke-linejoin="miter"/>
<polygon points="56.70,229.40 60.20,232.90 56.70,236.40 53.20,232.90" fill="#fff" stroke="#e46ef5" stroke-width="0.85"/>
<line x1="56.70" y1="229.40" x2="56.70" y2="236.40" stroke="#e46ef5" stroke-width="0.85" />
<polygon points="57.00,232.94 60.78,239.49 53.22,239.49" fill="#e46ef5" stroke-linejoin="miter"/>
<rect x="54.10" y="237.40" width="5.20" height="5.20" fill="#fff" stroke="#e46ef5" stroke-width="0.85"/>
<rect x="54.10" y="237.40" width="5.20" height="2.60" fill="#e46ef5"/>
<rect x="54.10" y="240.80" width="5.20" height="5.20" fill="#fff" stroke="#e46ef5" stroke-width="0.85"/>
<rect x="65.40" y="237.40" width="5.20" height="5.20" fill="#fff" stroke="#e46ef5" stroke-width="0.85"/>
<rect x="65.40" y="237.40" width="5.20" height="2.60" fill="#e46ef5"/>
<polygon points="71.20,241.00 74.70,244.50 71.20,248.00 67.70,244.50" fill="#fff" stroke="#e46ef5" stroke-width="0.85"/>
<rect x="97.10" y="230.30" width="5.20" height="5.20" fill="#fff" stroke="#e46ef5" stroke-width="0.85"/>
<line x1="97.10" y1="232.90" x2="102.30" y2="232.90" stroke="#e46ef5" stroke-width="0.68" />
<line x1="99.70" y1="230.30" x2="99.70" y2="235.50" stroke="#e46ef5" stroke-width="0.68" />
<rect x="93.90" y="241.90" width="5.20" height="5.20" fill="#fff" stroke="#e46ef5" stroke-width="0.85"/>
<rect x="93.90" y="241.90" width="5.20" height="2.60" fill="#e46ef5"/>
<polygon points="101.00,248.11 97.99,242.90 104.01,242.90" fill="#fff" stroke="#e46ef5" stroke-width="0.85" stroke-linejoin="miter"/>
<polygon points="104.81,239.00 99.60,242.01 99.60,235.99" fill="#fff" stroke="#74ba38" stroke-width="0.85" stroke-linejoin="miter"/>
<polygon points="80.00,245.60 83.50,249.10 80.00,252.60 76.50,249.10" fill="#fff" stroke="#e46ef5" stroke-width="0.85"/>
<line x1="80.00" y1="245.60" x2="80.00" y2="252.60" stroke="#e46ef5" stroke-width="0.85" />
<polygon points="88.70,246.90 92.20,250.40 88.70,253.90 85.20,250.40" fill="#fff" stroke="#e46ef5" stroke-width="0.85"/>
<line x1="88.70" y1="246.90" x2="88.70" y2="253.90" stroke="#e46ef5" stroke-width="0.85" />
<polygon points="62.10,252.70 65.60,256.20 62.10,259.70 58.60,256.20" fill="#fff" stroke="#e46ef5" stroke-width="0.85"/>
<line x1="62.10" y1="252.70" x2="62.10" y2="259.70" stroke="#e46ef5" stroke-width="0.85" />
<polygon points="72.50,252.00 76.00,255.50 72.50,259.00 69.00,255.50" fill="#fff" stroke="#e46ef5" stroke-width="0.85"/>
<line x1="72.50" y1="252.00" x2="72.50" y2="259.00" stroke="#e46ef5" stroke-width="0.85" />
<circle cx="78.80" cy="259.80" r="2.70" fill="#fff" stroke="#e46ef5" stroke-width="0.85"/>
<polygon points="93.66,256.80 87.11,260.58 87.11,253.02" fill="#e46ef5" stroke-linejoin="miter"/>
<polygon points="79.00,261.74 82.78,268.29 75.22,268.29" fill="#e46ef5" stroke-linejoin="miter"/>
<circle cx="88.70" cy="261.70" r="3.36" fill="#74ba38"/>
<line x1="85.34" y1="261.70" x2="92.06" y2="261.70" stroke="#fff" stroke-width="0.6" />
<line x1="88.70" y1="258.34" x2="88.70" y2="265.06" stroke="#fff" stroke-width="0.6" />
<polygon points="105.56,269.90 99.01,273.68 99.01,266.12" fill="#e46ef5" stroke-linejoin="miter"/>
<circle cx="60.80" cy="271.60" r="2.70" fill="#fff" stroke="#e46ef5" stroke-width="0.85"/>
<path d="M60.00,274.20 L65.60,279.80 M60.00,279.80 L65.60,274.20 M60.00,274.20 L65.60,274.20 M60.00,279.80 L65.60,279.80" stroke="#74ba38" stroke-width="0.935" fill="none"/>
<circle cx="62.80" cy="277.00" r="2.10" fill="none" stroke="#74ba38" stroke-width="0.68"/>
<circle cx="92.00" cy="271.60" r="2.70" fill="#fff" stroke="#e46ef5" stroke-width="0.85"/>
<line x1="89.30" y1="271.60" x2="94.70" y2="271.60" stroke="#e46ef5" stroke-width="0.68" />
<line x1="92.00" y1="268.90" x2="92.00" y2="274.30" stroke="#e46ef5" stroke-width="0.68" />
<circle cx="88.10" cy="277.00" r="2.70" fill="#fff" stroke="#e46ef5" stroke-width="0.85"/>
<polygon points="81.96,277.00 75.41,280.78 75.41,273.22" fill="#e46ef5" stroke-linejoin="miter"/>
<circle cx="75.10" cy="284.20" r="2.70" fill="#fff" stroke="#e46ef5" stroke-width="0.85"/>
<circle cx="74.50" cy="286.70" r="2.70" fill="#fff" stroke="#e46ef5" stroke-width="0.85"/>
<polygon points="86.56,282.90 80.01,286.68 80.01,279.12" fill="#e46ef5" stroke-linejoin="miter"/>
<polygon points="89.86,283.50 83.31,287.28 83.31,279.72" fill="#e46ef5" stroke-linejoin="miter"/>
<polygon points="93.06,288.00 86.51,291.78 86.51,284.22" fill="#e46ef5" stroke-linejoin="miter"/>
<polygon points="64.10,285.09 67.11,290.30 61.09,290.30" fill="#fff" stroke="#74ba38" stroke-width="0.85" stroke-linejoin="miter"/>
<polygon points="64.10,285.09 67.11,290.30 61.09,290.30" fill="#74ba38" clip-path="none" opacity="0"/>
<polygon points="64.10,285.09 65.78,287.99 62.42,287.99" fill="#74ba38"/>
<polygon points="62.10,296.11 59.09,290.90 65.11,290.90" fill="#fff" stroke="#e46ef5" stroke-width="0.85" stroke-linejoin="miter"/>
<rect x="72.50" y="293.20" width="5.20" height="5.20" fill="#fff" stroke="#e46ef5" stroke-width="0.85"/>
<line x1="72.50" y1="295.80" x2="77.70" y2="295.80" stroke="#e46ef5" stroke-width="0.68" />
<line x1="75.10" y1="293.20" x2="75.10" y2="298.40" stroke="#e46ef5" stroke-width="0.68" />
<polygon points="69.54,298.40 76.09,294.62 76.09,302.18" fill="#e46ef5" stroke-linejoin="miter"/>
<path d="M96.30,287.20 L101.90,292.80 M96.30,292.80 L101.90,287.20 M96.30,287.20 L101.90,287.20 M96.30,292.80 L101.90,292.80" stroke="#74ba38" stroke-width="0.935" fill="none"/>
<circle cx="99.10" cy="290.00" r="2.10" fill="none" stroke="#74ba38" stroke-width="0.68"/>
<rect x="97.10" y="294.50" width="5.20" height="5.20" fill="#fff" stroke="#74ba38" stroke-width="0.85"/>
<line x1="97.10" y1="297.10" x2="102.30" y2="297.10" stroke="#74ba38" stroke-width="0.68" />
<line x1="99.70" y1="294.50" x2="99.70" y2="299.70" stroke="#74ba38" stroke-width="0.68" />
<polygon points="58.30,307.26 54.52,300.71 62.08,300.71" fill="#e46ef5" stroke-linejoin="miter"/>
<polygon points="62.80,304.51 59.79,299.30 65.81,299.30" fill="#fff" stroke="#e46ef5" stroke-width="0.85" stroke-linejoin="miter"/>
<circle cx="80.90" cy="299.10" r="1.50" fill="#74ba38"/>
<circle cx="79.40" cy="301.10" r="1.50" fill="#74ba38"/>
<circle cx="82.40" cy="301.10" r="1.50" fill="#74ba38"/>
<line x1="80.90" y1="300.60" x2="80.90" y2="303.80" stroke="#74ba38" stroke-width="0.9" />
<line x1="79.40" y1="303.60" x2="82.40" y2="303.60" stroke="#74ba38" stroke-width="0.9" />
<circle cx="82.20" cy="303.70" r="1.50" fill="#74ba38"/>
<circle cx="80.70" cy="305.70" r="1.50" fill="#74ba38"/>
<circle cx="83.70" cy="305.70" r="1.50" fill="#74ba38"/>
<line x1="82.20" y1="305.20" x2="82.20" y2="308.40" stroke="#74ba38" stroke-width="0.9" />
<line x1="80.70" y1="308.20" x2="83.70" y2="308.20" stroke="#74ba38" stroke-width="0.9" />
<polygon points="90.46,303.00 83.91,306.78 83.91,299.22" fill="#e46ef5" stroke-linejoin="miter"/>
<polygon points="91.30,297.34 95.08,303.89 87.52,303.89" fill="#e46ef5" stroke-linejoin="miter"/>
<polygon points="92.00,307.81 88.99,302.60 95.01,302.60" fill="#fff" stroke="#e46ef5" stroke-width="0.85" stroke-linejoin="miter"/>
<rect x="94.50" y="296.50" width="5.20" height="5.20" fill="#fff" stroke="#e46ef5" stroke-width="0.85"/>
<rect x="98.40" y="301.00" width="5.20" height="5.20" fill="#fff" stroke="#e46ef5" stroke-width="0.85"/>
<line x1="98.40" y1="303.60" x2="103.60" y2="303.60" stroke="#e46ef5" stroke-width="0.68" />
<line x1="101.00" y1="301.00" x2="101.00" y2="306.20" stroke="#e46ef5" stroke-width="0.68" />
<circle cx="116.80" cy="251.00" r="2.70" fill="#fff" stroke="#e46ef5" stroke-width="0.85"/>
<path d="M114.10,250.70 A2.70,2.70 0 0 1 119.50,250.70 Z" fill="#e46ef5"/>
<circle cx="115.30" cy="256.80" r="2.70" fill="#fff" stroke="#e46ef5" stroke-width="0.85"/>
<path d="M112.60,256.50 A2.70,2.70 0 0 1 118.00,256.50 Z" fill="#e46ef5"/>
<rect x="108.00" y="254.90" width="5.20" height="5.20" fill="#fff" stroke="#74ba38" stroke-width="0.85"/>
<polygon points="120.94,256.80 127.49,253.02 127.49,260.58" fill="#e46ef5" stroke-linejoin="miter"/>
<circle cx="141.50" cy="263.40" r="2.70" fill="#fff" stroke="#e46ef5" stroke-width="0.85"/>
<polygon points="119.16,280.90 112.61,284.68 112.61,277.12" fill="#e46ef5" stroke-linejoin="miter"/>
<polygon points="109.46,284.80 102.91,288.58 102.91,281.02" fill="#e46ef5" stroke-linejoin="miter"/>
<rect x="131.70" y="276.00" width="5.20" height="5.20" fill="#fff" stroke="#74ba38" stroke-width="0.85"/>
<line x1="131.70" y1="278.60" x2="136.90" y2="278.60" stroke="#74ba38" stroke-width="0.68" />
<line x1="134.30" y1="276.00" x2="134.30" y2="281.20" stroke="#74ba38" stroke-width="0.68" />
<polygon points="145.16,277.30 138.61,281.08 138.61,273.52" fill="#e46ef5" stroke-linejoin="miter"/>
<polygon points="155.70,276.64 159.48,283.19 151.92,283.19" fill="#e46ef5" stroke-linejoin="miter"/>
<circle cx="159.50" cy="277.30" r="2.70" fill="#fff" stroke="#e46ef5" stroke-width="0.85"/>
<polygon points="156.37,287.40 154.64,290.41 151.16,290.41 149.43,287.40 151.16,284.39 154.64,284.39" fill="#74ba38"/>
<polygon points="156.16,292.60 149.61,296.38 149.61,288.82" fill="#e46ef5" stroke-linejoin="miter"/>
<polygon points="115.96,291.30 109.41,295.08 109.41,287.52" fill="#e46ef5" stroke-linejoin="miter"/>
<polygon points="112.76,298.40 106.21,302.18 106.21,294.62" fill="#e46ef5" stroke-linejoin="miter"/>
<circle cx="135.00" cy="292.60" r="3.24" fill="#e46ef5"/>
<circle cx="131.70" cy="302.30" r="2.70" fill="#fff" stroke="#e46ef5" stroke-width="0.85"/>
<rect x="121.40" y="303.60" width="5.20" height="5.20" fill="#fff" stroke="#e46ef5" stroke-width="0.85"/>
<line x1="121.40" y1="306.20" x2="126.60" y2="306.20" stroke="#e46ef5" stroke-width="0.68" />
<line x1="124.00" y1="303.60" x2="124.00" y2="308.80" stroke="#e46ef5" stroke-width="0.68" />
<rect x="99.40" y="301.00" width="5.20" height="5.20" fill="#fff" stroke="#e46ef5" stroke-width="0.85"/>
<rect x="99.40" y="301.00" width="5.20" height="2.60" fill="#e46ef5"/>
<circle cx="175.10" cy="283.80" r="2.70" fill="#fff" stroke="#e46ef5" stroke-width="0.85"/>
<rect x="172.50" y="299.70" width="5.20" height="5.20" fill="#fff" stroke="#74ba38" stroke-width="0.85"/>
<line x1="172.50" y1="302.30" x2="177.70" y2="302.30" stroke="#74ba38" stroke-width="0.68" />
<line x1="175.10" y1="302.30" x2="175.10" y2="304.90" stroke="#74ba38" stroke-width="0.68" />
<line x1="172.50" y1="301.52" x2="177.70" y2="301.52" stroke="#74ba38" stroke-width="0.51" />
<circle cx="175.10" cy="306.50" r="3.24" fill="#74ba38"/>
<polygon points="187.20,301.64 190.98,308.19 183.42,308.19" fill="#74ba38" stroke-linejoin="miter"/>
<circle cx="58.00" cy="315.30" r="2.70" fill="#fff" stroke="#74ba38" stroke-width="0.85"/>
<polygon points="82.90,311.51 79.89,306.30 85.91,306.30" fill="#fff" stroke="#74ba38" stroke-width="0.85" stroke-linejoin="miter"/>
<line x1="80.12" y1="306.70" x2="85.68" y2="306.70" stroke="#74ba38" stroke-width="1.128" />
<polygon points="82.90,313.31 79.89,308.10 85.91,308.10" fill="#fff" stroke="#74ba38" stroke-width="0.85" stroke-linejoin="miter"/>
<polygon points="85.60,347.69 88.61,352.90 82.59,352.90" fill="#fff" stroke="#74ba38" stroke-width="0.85" stroke-linejoin="miter"/>
<rect x="57.00" y="353.80" width="5.20" height="5.20" fill="#fff" stroke="#74ba38" stroke-width="0.85"/>
<rect x="57.00" y="353.80" width="5.20" height="2.60" fill="#74ba38"/>
<circle cx="59.60" cy="357.60" r="2.70" fill="#fff" stroke="#74ba38" stroke-width="0.85"/>
<polygon points="128.50,308.45 132.35,312.30 128.50,316.15 124.65,312.30" fill="#74ba38"/>
<polygon points="140.20,317.26 136.42,310.71 143.98,310.71" fill="#74ba38" stroke-linejoin="miter"/>
<polygon points="156.30,316.76 152.52,310.21 160.08,310.21" fill="#74ba38" stroke-linejoin="miter"/>
<polygon points="159.00,341.80 162.50,345.30 159.00,348.80 155.50,345.30" fill="#fff" stroke="#74ba38" stroke-width="0.85"/>
<path d="M175.60,316.20 L181.20,321.80 M175.60,321.80 L181.20,316.20 M175.60,316.20 L181.20,316.20 M175.60,321.80 L181.20,321.80" stroke="#74ba38" stroke-width="0.935" fill="none"/>
<circle cx="178.40" cy="319.00" r="2.10" fill="none" stroke="#74ba38" stroke-width="0.68"/>
<polygon points="185.50,325.11 182.49,319.90 188.51,319.90" fill="#fff" stroke="#74ba38" stroke-width="0.85" stroke-linejoin="miter"/>
<polygon points="179.00,329.71 175.99,324.50 182.01,324.50" fill="#fff" stroke="#74ba38" stroke-width="0.85" stroke-linejoin="miter"/>
<polygon points="167.30,326.50 170.80,330.00 167.30,333.50 163.80,330.00" fill="#fff" stroke="#74ba38" stroke-width="0.85"/>
<polygon points="173.20,329.10 176.70,332.60 173.20,336.10 169.70,332.60" fill="#fff" stroke="#74ba38" stroke-width="0.85"/>
<polygon points="166.90,339.41 163.89,334.20 169.91,334.20" fill="#fff" stroke="#74ba38" stroke-width="0.85" stroke-linejoin="miter"/>
<circle cx="71.50" cy="370.10" r="3.24" fill="#74ba38"/>
<path d="M56.00,380.20 L61.60,385.80 M56.00,385.80 L61.60,380.20 M56.00,380.20 L61.60,380.20 M56.00,385.80 L61.60,385.80" stroke="#74ba38" stroke-width="0.935" fill="none"/>
<circle cx="58.80" cy="383.00" r="2.10" fill="none" stroke="#74ba38" stroke-width="0.68"/>
<polygon points="74.70,378.10 78.20,381.60 74.70,385.10 71.20,381.60" fill="#fff" stroke="#74ba38" stroke-width="0.85"/>
<line x1="74.70" y1="378.10" x2="74.70" y2="385.10" stroke="#74ba38" stroke-width="0.85" />
<polygon points="96.60,377.39 99.61,382.60 93.59,382.60" fill="#fff" stroke="#74ba38" stroke-width="0.85" stroke-linejoin="miter"/>
<line x1="96.60" y1="377.39" x2="96.60" y2="383.73" stroke="#74ba38" stroke-width="0.85" />
<circle cx="102.30" cy="379.60" r="3.24" fill="#74ba38"/>
<circle cx="115.60" cy="379.00" r="2.70" fill="#fff" stroke="#74ba38" stroke-width="0.85"/>
<line x1="114.66" y1="376.30" x2="114.66" y2="381.70" stroke="#74ba38" stroke-width="0.68" />
<line x1="116.54" y1="376.30" x2="116.54" y2="381.70" stroke="#74ba38" stroke-width="0.68" />
<rect x="140.00" y="370.40" width="5.20" height="5.20" fill="#74ba38"/>
<rect x="140.40" y="376.00" width="5.20" height="5.20" fill="#fff" stroke="#74ba38" stroke-width="0.85"/>
<line x1="140.40" y1="378.60" x2="145.60" y2="378.60" stroke="#74ba38" stroke-width="0.68" />
<line x1="143.00" y1="378.60" x2="143.00" y2="381.20" stroke="#74ba38" stroke-width="0.68" />
<line x1="140.40" y1="377.82" x2="145.60" y2="377.82" stroke="#74ba38" stroke-width="0.51" />
<polygon points="73.80,220.62 74.91,223.58 78.06,223.72 75.59,225.68 76.43,228.72 73.80,226.98 71.17,228.72 72.01,225.68 69.54,223.72 72.69,223.58" fill="#1a1aff"/>
<polygon points="92.80,205.82 93.91,208.78 97.06,208.92 94.59,210.88 95.43,213.92 92.80,212.18 90.17,213.92 91.01,210.88 88.54,208.92 91.69,208.78" fill="#ff1f1f"/>
<polygon points="177.60,184.12 178.71,187.08 181.86,187.22 179.39,189.18 180.23,192.22 177.60,190.48 174.97,192.22 175.81,189.18 173.34,187.22 176.49,187.08" fill="#1a1aff"/>
<text x="187.00" y="192.10" font-size="10" font-weight="bold" fill="#1a1aff" textLength="26.2" lengthAdjust="spacingAndGlyphs" >0.22O</text>
<polygon points="177.60,197.52 178.71,200.48 181.86,200.62 179.39,202.58 180.23,205.62 177.60,203.88 174.97,205.62 175.81,202.58 173.34,200.62 176.49,200.48" fill="#ff1f1f"/>
<text x="187.00" y="205.90" font-size="10" font-weight="bold" fill="#ff1f1f" textLength="26.2" lengthAdjust="spacingAndGlyphs" >0.36O</text>
<rect x="507.60" y="180.50" width="174.40" height="214.40" stroke="#000" stroke-width="1.4" fill="none"/>
<line x1="524.29" y1="394.90" x2="524.29" y2="392.50" stroke="#000" stroke-width="1.0" />
<line x1="547.98" y1="394.90" x2="547.98" y2="392.50" stroke="#000" stroke-width="1.0" />
<line x1="571.66" y1="394.90" x2="571.66" y2="392.50" stroke="#000" stroke-width="1.0" />
<line x1="595.35" y1="394.90" x2="595.35" y2="392.50" stroke="#000" stroke-width="1.0" />
<line x1="619.03" y1="394.90" x2="619.03" y2="392.50" stroke="#000" stroke-width="1.0" />
<line x1="642.72" y1="394.90" x2="642.72" y2="392.50" stroke="#000" stroke-width="1.0" />
<line x1="666.40" y1="394.90" x2="666.40" y2="392.50" stroke="#000" stroke-width="1.0" />
<text x="524.29" y="407.00" font-size="10" font-weight="bold" fill="#000" text-anchor="middle" >900</text>
<text x="571.66" y="407.00" font-size="10" font-weight="bold" fill="#000" text-anchor="middle" >1200</text>
<text x="619.03" y="407.00" font-size="10" font-weight="bold" fill="#000" text-anchor="middle" >1500</text>
<text x="666.40" y="407.00" font-size="10" font-weight="bold" fill="#000" text-anchor="middle" >1800</text>
<line x1="507.60" y1="394.60" x2="510.00" y2="394.60" stroke="#000" stroke-width="1.0" />
<text x="504.00" y="398.20" font-size="10" font-weight="bold" fill="#000" text-anchor="end" >300</text>
<line x1="507.60" y1="367.85" x2="510.00" y2="367.85" stroke="#000" stroke-width="1.0" />
<text x="504.00" y="371.45" font-size="10" font-weight="bold" fill="#000" text-anchor="end" >400</text>
<line x1="507.60" y1="341.10" x2="510.00" y2="341.10" stroke="#000" stroke-width="1.0" />
<text x="504.00" y="344.70" font-size="10" font-weight="bold" fill="#000" text-anchor="end" >500</text>
<line x1="507.60" y1="314.35" x2="510.00" y2="314.35" stroke="#000" stroke-width="1.0" />
<text x="504.00" y="317.95" font-size="10" font-weight="bold" fill="#000" text-anchor="end" >600</text>
<line x1="507.60" y1="287.60" x2="510.00" y2="287.60" stroke="#000" stroke-width="1.0" />
<text x="504.00" y="291.20" font-size="10" font-weight="bold" fill="#000" text-anchor="end" >700</text>
<line x1="507.60" y1="260.85" x2="510.00" y2="260.85" stroke="#000" stroke-width="1.0" />
<text x="504.00" y="264.45" font-size="10" font-weight="bold" fill="#000" text-anchor="end" >800</text>
<line x1="507.60" y1="234.10" x2="510.00" y2="234.10" stroke="#000" stroke-width="1.0" />
<text x="504.00" y="237.70" font-size="10" font-weight="bold" fill="#000" text-anchor="end" >900</text>
<line x1="507.60" y1="207.35" x2="510.00" y2="207.35" stroke="#000" stroke-width="1.0" />
<text x="504.00" y="210.95" font-size="10" font-weight="bold" fill="#000" text-anchor="end" >1000</text>
<line x1="507.60" y1="180.60" x2="510.00" y2="180.60" stroke="#000" stroke-width="1.0" />
<text x="504.00" y="184.20" font-size="10" font-weight="bold" fill="#000" text-anchor="end" >1100</text>
<text x="517.10" y="420.30" font-size="10.6" font-weight="bold" fill="#000" textLength="156.3" lengthAdjust="spacingAndGlyphs" >Ultimate tensile strength (MPa)</text>
<text transform="translate(480.80,345.20) rotate(-90)" font-size="10.6" font-weight="bold" fill="#000" textLength="115" lengthAdjust="spacingAndGlyphs" >Fatigue strength (MPa)</text>
<text x="468.80" y="180.80" font-size="14.5" font-weight="bold" fill="#000" >e</text>
<circle cx="537.20" cy="251.50" r="2.70" fill="#fff" stroke="#e46ef5" stroke-width="0.85"/>
<path d="M534.50,251.20 A2.70,2.70 0 0 1 539.90,251.20 Z" fill="#e46ef5"/>
<circle cx="545.60" cy="252.80" r="2.70" fill="#fff" stroke="#e46ef5" stroke-width="0.85"/>
<path d="M542.90,252.50 A2.70,2.70 0 0 1 548.30,252.50 Z" fill="#e46ef5"/>
<circle cx="554.90" cy="260.80" r="2.70" fill="#fff" stroke="#c07ef0" stroke-width="0.85"/>
<polygon points="566.70,254.10 570.20,257.60 566.70,261.10 563.20,257.60" fill="#fff" stroke="#3c7cf0" stroke-width="0.85"/>
<polygon points="563.40,258.60 566.90,262.10 563.40,265.60 559.90,262.10" fill="#fff" stroke="#3c7cf0" stroke-width="0.85"/>
<polygon points="571.20,262.50 574.70,266.00 571.20,269.50 567.70,266.00" fill="#fff" stroke="#3c7cf0" stroke-width="0.85"/>
<polygon points="589.30,229.41 586.29,224.20 592.31,224.20" fill="#fff" stroke="#ff3b3b" stroke-width="0.85" stroke-linejoin="miter"/>
<polygon points="572.50,242.31 569.49,237.10 575.51,237.10" fill="#fff" stroke="#ff3b3b" stroke-width="0.85" stroke-linejoin="miter"/>
<polygon points="573.10,235.90 576.60,239.40 573.10,242.90 569.60,239.40" fill="#fff" stroke="#3c7cf0" stroke-width="0.85"/>
<polygon points="584.80,235.90 588.30,239.40 584.80,242.90 581.30,239.40" fill="#fff" stroke="#3c7cf0" stroke-width="0.85"/>
<polygon points="577.70,242.40 581.20,245.90 577.70,249.40 574.20,245.90" fill="#fff" stroke="#3c7cf0" stroke-width="0.85"/>
<rect x="579.40" y="251.40" width="5.20" height="5.20" fill="#fff" stroke="#b0b040" stroke-width="0.85"/>
<polygon points="597.10,263.90 600.33,266.25 599.10,270.05 595.10,270.05 593.87,266.25" fill="#ff6620"/>
<polygon points="617.90,237.40 621.13,239.75 619.90,243.55 615.90,243.55 614.67,239.75" fill="#ff6620"/>
<circle cx="530.30" cy="274.10" r="2.70" fill="#fff" stroke="#e46ef5" stroke-width="0.85"/>
<path d="M527.60,273.80 A2.70,2.70 0 0 1 533.00,273.80 Z" fill="#e46ef5"/>
<circle cx="551.80" cy="274.10" r="2.70" fill="#fff" stroke="#e46ef5" stroke-width="0.85"/>
<path d="M549.10,273.80 A2.70,2.70 0 0 1 554.50,273.80 Z" fill="#e46ef5"/>
<polygon points="559.20,270.25 563.05,274.10 559.20,277.95 555.35,274.10" fill="#86c44c"/>
<polygon points="571.80,270.40 575.03,272.75 573.80,276.55 569.80,276.55 568.57,272.75" fill="#ff6620"/>
<polygon points="586.70,270.89 589.71,276.10 583.69,276.10" fill="#fff" stroke="#777777" stroke-width="0.85" stroke-linejoin="miter"/>
<circle cx="532.60" cy="282.90" r="3.24" fill="#ff1a1a"/>
<polygon points="539.00,280.80 537.45,283.48 534.35,283.48 532.80,280.80 534.35,278.12 537.45,278.12" fill="#fff" stroke="#9cc0ec" stroke-width="0.85"/>
<line x1="532.90" y1="280.80" x2="538.90" y2="280.80" stroke="#9cc0ec" stroke-width="0.68" />
<line x1="535.90" y1="278.10" x2="535.90" y2="283.50" stroke="#9cc0ec" stroke-width="0.68" />
<polygon points="554.00,278.89 557.01,284.10 550.99,284.10" fill="#fff" stroke="#777777" stroke-width="0.85" stroke-linejoin="miter"/>
<polygon points="561.80,275.80 565.30,279.30 561.80,282.80 558.30,279.30" fill="#fff" stroke="#3c7cf0" stroke-width="0.85"/>
<polygon points="565.00,277.59 568.01,282.80 561.99,282.80" fill="#fff" stroke="#777777" stroke-width="0.85" stroke-linejoin="miter"/>
<circle cx="541.00" cy="287.70" r="2.70" fill="#fff" stroke="#c07ef0" stroke-width="0.85"/>
<polygon points="547.50,284.09 550.51,289.30 544.49,289.30" fill="#fff" stroke="#777777" stroke-width="0.85" stroke-linejoin="miter"/>
<circle cx="547.50" cy="294.50" r="2.70" fill="#fff" stroke="#e46ef5" stroke-width="0.85"/>
<path d="M544.80,294.20 A2.70,2.70 0 0 1 550.20,294.20 Z" fill="#e46ef5"/>
<circle cx="571.20" cy="281.80" r="2.70" fill="#fff" stroke="#e46ef5" stroke-width="0.85"/>
<path d="M568.50,281.50 A2.70,2.70 0 0 1 573.90,281.50 Z" fill="#e46ef5"/>
<polygon points="590.60,278.50 591.59,281.14 594.40,281.26 592.20,283.02 592.95,285.74 590.60,284.18 588.25,285.74 589.00,283.02 586.80,281.26 589.61,281.14" fill="#fff" stroke="#d0a440" stroke-width="0.85"/>
<rect x="574.20" y="289.00" width="5.20" height="5.20" fill="#fff" stroke="#000" stroke-width="0.85"/>
<rect x="574.20" y="289.00" width="5.20" height="2.60" fill="#000"/>
<polygon points="559.20,297.10 562.70,300.60 559.20,304.10 555.70,300.60" fill="#fff" stroke="#3c7cf0" stroke-width="0.85"/>
<polygon points="555.99,300.60 561.20,297.59 561.20,303.61" fill="#fff" stroke="#4cc070" stroke-width="0.85" stroke-linejoin="miter"/>
<polygon points="569.50,297.09 572.51,302.30 566.49,302.30" fill="#fff" stroke="#777777" stroke-width="0.85" stroke-linejoin="miter"/>
<polygon points="567.59,300.60 572.80,297.59 572.80,303.61" fill="#fff" stroke="#4cc070" stroke-width="0.85" stroke-linejoin="miter"/>
<polygon points="582.20,296.30 585.43,298.65 584.20,302.45 580.20,302.45 578.97,298.65" fill="#ff6620"/>
<polygon points="587.40,297.45 591.25,301.30 587.40,305.15 583.55,301.30" fill="#ff33ff"/>
<polygon points="582.59,299.30 587.80,296.29 587.80,302.31" fill="#fff" stroke="#4cc070" stroke-width="0.85" stroke-linejoin="miter"/>
<rect x="563.20" y="303.90" width="5.20" height="5.20" fill="#fff" stroke="#000" stroke-width="0.85"/>
<rect x="563.20" y="303.90" width="5.20" height="2.60" fill="#000"/>
<circle cx="535.90" cy="303.20" r="2.70" fill="#fff" stroke="#e46ef5" stroke-width="0.85"/>
<path d="M533.20,302.90 A2.70,2.70 0 0 1 538.60,302.90 Z" fill="#e46ef5"/>
<polygon points="534.60,305.10 535.59,307.74 538.40,307.86 536.20,309.62 536.95,312.34 534.60,310.78 532.25,312.34 533.00,309.62 530.80,307.86 533.61,307.74" fill="#8a8a2e"/>
<circle cx="524.20" cy="314.50" r="2.70" fill="#fff" stroke="#e46ef5" stroke-width="0.85"/>
<path d="M521.50,314.20 A2.70,2.70 0 0 1 526.90,314.20 Z" fill="#e46ef5"/>
<circle cx="530.00" cy="314.50" r="2.70" fill="#fff" stroke="#e46ef5" stroke-width="0.85"/>
<path d="M527.30,314.20 A2.70,2.70 0 0 1 532.70,314.20 Z" fill="#e46ef5"/>
<circle cx="534.60" cy="314.50" r="2.70" fill="#fff" stroke="#e46ef5" stroke-width="0.85"/>
<path d="M531.90,314.20 A2.70,2.70 0 0 1 537.30,314.20 Z" fill="#e46ef5"/>
<circle cx="535.20" cy="319.70" r="2.70" fill="#fff" stroke="#e46ef5" stroke-width="0.85"/>
<path d="M532.50,319.40 A2.70,2.70 0 0 1 537.90,319.40 Z" fill="#e46ef5"/>
<polygon points="543.36,317.80 536.81,321.58 536.81,314.02" fill="#4ed8d8" stroke-linejoin="miter"/>
<polygon points="544.06,321.70 537.51,325.48 537.51,317.92" fill="#4ed8d8" stroke-linejoin="miter"/>
<rect x="580.30" y="311.70" width="5.20" height="5.20" fill="#fff" stroke="#6ee6e6" stroke-width="0.85"/>
<line x1="580.30" y1="314.30" x2="585.50" y2="314.30" stroke="#6ee6e6" stroke-width="0.68" />
<line x1="582.90" y1="314.30" x2="582.90" y2="316.90" stroke="#6ee6e6" stroke-width="0.68" />
<line x1="580.30" y1="313.52" x2="585.50" y2="313.52" stroke="#6ee6e6" stroke-width="0.51" />
<polygon points="556.60,314.96 552.82,308.41 560.38,308.41" fill="#33e600" stroke-linejoin="miter"/>
<polygon points="561.10,314.96 557.32,308.41 564.88,308.41" fill="#33e600" stroke-linejoin="miter"/>
<polygon points="562.10,320.76 558.32,314.21 565.88,314.21" fill="#33e600" stroke-linejoin="miter"/>
<polygon points="560.80,326.16 557.02,319.61 564.58,319.61" fill="#33e600" stroke-linejoin="miter"/>
<polygon points="569.90,331.76 566.12,325.21 573.68,325.21" fill="#33e600" stroke-linejoin="miter"/>
<circle cx="526.10" cy="327.90" r="2.70" fill="#fff" stroke="#e46ef5" stroke-width="0.85"/>
<path d="M523.40,327.60 A2.70,2.70 0 0 1 528.80,327.60 Z" fill="#e46ef5"/>
<circle cx="537.50" cy="328.80" r="2.70" fill="#fff" stroke="#e46ef5" stroke-width="0.85"/>
<path d="M534.80,328.50 A2.70,2.70 0 0 1 540.20,328.50 Z" fill="#e46ef5"/>
<circle cx="548.20" cy="327.90" r="2.70" fill="#fff" stroke="#e46ef5" stroke-width="0.85"/>
<path d="M545.50,327.60 A2.70,2.70 0 0 1 550.90,327.60 Z" fill="#e46ef5"/>
<circle cx="553.40" cy="327.90" r="2.70" fill="#fff" stroke="#e46ef5" stroke-width="0.85"/>
<path d="M550.70,327.60 A2.70,2.70 0 0 1 556.10,327.60 Z" fill="#e46ef5"/>
<circle cx="556.80" cy="328.00" r="3.24" fill="#ff1a1a"/>
<circle cx="564.20" cy="328.10" r="2.70" fill="#fff" stroke="#8cb83c" stroke-width="0.85"/>
<polygon points="529.40,327.79 532.41,333.00 526.39,333.00" fill="#fff" stroke="#a4b04a" stroke-width="0.85" stroke-linejoin="miter"/>
<line x1="529.40" y1="327.79" x2="529.40" y2="334.13" stroke="#a4b04a" stroke-width="0.85" />
<polygon points="527.40,335.59 530.41,340.80 524.39,340.80" fill="#fff" stroke="#a4b04a" stroke-width="0.85" stroke-linejoin="miter"/>
<line x1="527.40" y1="335.59" x2="527.40" y2="341.93" stroke="#a4b04a" stroke-width="0.85" />
<polygon points="540.86,334.00 534.31,337.78 534.31,330.22" fill="#4ed8d8" stroke-linejoin="miter"/>
<polygon points="550.10,332.39 553.11,337.60 547.09,337.60" fill="#fff" stroke="#777777" stroke-width="0.85" stroke-linejoin="miter"/>
<polygon points="555.80,330.75 559.65,334.60 555.80,338.45 551.95,334.60" fill="#ff33ff"/>
<circle cx="526.10" cy="341.70" r="2.70" fill="#fff" stroke="#e46ef5" stroke-width="0.85"/>
<path d="M523.40,341.40 A2.70,2.70 0 0 1 528.80,341.40 Z" fill="#e46ef5"/>
<circle cx="530.00" cy="348.20" r="2.70" fill="#fff" stroke="#e46ef5" stroke-width="0.85"/>
<path d="M527.30,347.90 A2.70,2.70 0 0 1 532.70,347.90 Z" fill="#e46ef5"/>
<circle cx="550.80" cy="341.10" r="2.70" fill="#fff" stroke="#e46ef5" stroke-width="0.85"/>
<path d="M548.10,340.80 A2.70,2.70 0 0 1 553.50,340.80 Z" fill="#e46ef5"/>
<polygon points="537.00,341.70 535.45,344.38 532.35,344.38 530.80,341.70 532.35,339.02 535.45,339.02" fill="#fff" stroke="#9cc0ec" stroke-width="0.85"/>
<line x1="530.90" y1="341.70" x2="536.90" y2="341.70" stroke="#9cc0ec" stroke-width="0.68" />
<line x1="533.90" y1="339.00" x2="533.90" y2="344.40" stroke="#9cc0ec" stroke-width="0.68" />
<polygon points="542.30,340.50 545.80,344.00 542.30,347.50 538.80,344.00" fill="#fff" stroke="#f07848" stroke-width="0.85"/>
<line x1="540.55" y1="342.25" x2="544.05" y2="345.75" stroke="#f07848" stroke-width="0.68" />
<line x1="540.55" y1="345.75" x2="544.05" y2="342.25" stroke="#f07848" stroke-width="0.68" />
<line x1="542.30" y1="340.50" x2="542.30" y2="347.50" stroke="#f07848" stroke-width="0.68" />
<line x1="538.80" y1="344.00" x2="545.80" y2="344.00" stroke="#f07848" stroke-width="0.68" />
<polygon points="540.70,351.30 544.20,354.80 540.70,358.30 537.20,354.80" fill="#fff" stroke="#f07848" stroke-width="0.85"/>
<line x1="538.95" y1="353.05" x2="542.45" y2="356.55" stroke="#f07848" stroke-width="0.68" />
<line x1="538.95" y1="356.55" x2="542.45" y2="353.05" stroke="#f07848" stroke-width="0.68" />
<line x1="540.70" y1="351.30" x2="540.70" y2="358.30" stroke="#f07848" stroke-width="0.68" />
<line x1="537.20" y1="354.80" x2="544.20" y2="354.80" stroke="#f07848" stroke-width="0.68" />
<polygon points="542.47,348.30 540.74,351.31 537.26,351.31 535.53,348.30 537.26,345.29 540.74,345.29" fill="#6e4848"/>
<polygon points="552.40,345.94 556.18,352.49 548.62,352.49" fill="#1010ff" stroke-linejoin="miter"/>
<polygon points="552.00,350.66 548.22,344.11 555.78,344.11" fill="#33e600" stroke-linejoin="miter"/>
<polygon points="577.70,340.15 581.55,344.00 577.70,347.85 573.85,344.00" fill="#ff33ff"/>
<polygon points="571.20,350.85 575.05,354.70 571.20,358.55 567.35,354.70" fill="#ff33ff"/>
<polygon points="527.70,364.20 528.69,366.84 531.50,366.96 529.30,368.72 530.05,371.44 527.70,369.88 525.35,371.44 526.10,368.72 523.90,366.96 526.71,366.84" fill="#8a8a2e"/>
<polygon points="542.54,389.50 549.09,385.72 549.09,393.28" fill="#c9a032" stroke-linejoin="miter"/>
<polygon points="625.90,317.40 626.89,320.04 629.70,320.16 627.50,321.92 628.25,324.64 625.90,323.08 623.55,324.64 624.30,321.92 622.10,320.16 624.91,320.04" fill="#78cc3c"/>
<polygon points="663.20,186.60 664.38,189.77 667.77,189.92 665.12,192.02 666.02,195.28 663.20,193.42 660.38,195.28 661.28,192.02 658.63,189.92 662.02,189.77" fill="#ff1f1f"/>
<text x="650.60" y="206.00" font-size="10" font-weight="bold" fill="#ff1f1f" textLength="26.2" lengthAdjust="spacingAndGlyphs" >0.36O</text>
<polygon points="651.40,229.20 652.58,232.37 655.97,232.52 653.32,234.62 654.22,237.88 651.40,236.02 648.58,237.88 649.48,234.62 646.83,232.52 650.22,232.37" fill="#1a1aff"/>
<text x="639.30" y="248.90" font-size="10" font-weight="bold" fill="#1a1aff" textLength="26.2" lengthAdjust="spacingAndGlyphs" >0.22O</text>
<rect x="229.20" y="185.00" width="234.30" height="62.30" stroke="#e85cf5" stroke-width="1.3" fill="none"/>
<text x="308.00" y="182.20" font-size="8.1" font-weight="normal" fill="#dc3cee" textLength="76.3" lengthAdjust="spacingAndGlyphs" >High-strength Ti alloys</text>
<rect x="238.15" y="187.45" width="3.90" height="3.90" fill="#e46ef5"/>
<text x="250.50" y="191.97" font-size="7.15" font-weight="normal" fill="#111" >TC4</text>
<circle cx="285.80" cy="189.40" r="2.03" fill="#fff" stroke="#e46ef5" stroke-width="0.6"/>
<line x1="283.78" y1="189.40" x2="287.82" y2="189.40" stroke="#e46ef5" stroke-width="0.48" />
<line x1="285.80" y1="187.38" x2="285.80" y2="191.43" stroke="#e46ef5" stroke-width="0.48" />
<text x="296.70" y="191.97" font-size="7.15" font-weight="normal" fill="#111" textLength="120.7" lengthAdjust="spacingAndGlyphs" >Ti-4.5Al-6.5Mo-2Cr-2.6Nb-2Zr-2Sn-1V</text>
<polygon points="240.10,195.87 242.50,200.04 237.70,200.04" fill="#e46ef5" stroke-linejoin="miter"/>
<text x="250.50" y="200.77" font-size="7.15" font-weight="normal" fill="#111" >Ti-11V</text>
<circle cx="285.80" cy="198.20" r="2.03" fill="#fff" stroke="#e46ef5" stroke-width="0.6"/>
<text x="296.70" y="200.77" font-size="7.15" font-weight="normal" fill="#111" >Ti-5Al-3Mo-3V-2Cr-2Zr-1Nb-1Fe</text>
<polygon points="240.10,209.33 237.70,205.16 242.50,205.16" fill="#e46ef5" stroke-linejoin="miter"/>
<text x="250.50" y="209.57" font-size="7.15" font-weight="normal" fill="#111" >Ti-8.5Cu</text>
<rect x="283.85" y="205.05" width="3.90" height="3.90" fill="#fff" stroke="#e46ef5" stroke-width="0.6"/>
<rect x="283.85" y="205.05" width="3.90" height="1.95" fill="#e46ef5"/>
<text x="296.70" y="209.57" font-size="7.15" font-weight="normal" fill="#111" >Ti-4.8Al-5.6Mo-3V-1.5Cr-1.6Fe</text>
<polygon points="237.77,215.80 241.94,213.40 241.94,218.20" fill="#e46ef5" stroke-linejoin="miter"/>
<text x="250.50" y="218.37" font-size="7.15" font-weight="normal" fill="#111" >Ti-5553</text>
<rect x="283.85" y="213.85" width="3.90" height="3.90" fill="#fff" stroke="#e46ef5" stroke-width="0.6"/>
<line x1="283.85" y1="215.80" x2="287.75" y2="215.80" stroke="#e46ef5" stroke-width="0.48" />
<line x1="285.80" y1="213.85" x2="285.80" y2="217.75" stroke="#e46ef5" stroke-width="0.48" />
<text x="296.70" y="218.37" font-size="7.15" font-weight="normal" fill="#111" >Ti-4.1Al-2.5Zr-2.5Cr-6.8Mo</text>
<polygon points="242.43,224.60 238.26,227.00 238.26,222.20" fill="#e46ef5" stroke-linejoin="miter"/>
<text x="250.50" y="227.17" font-size="7.15" font-weight="normal" fill="#111" >Ti-55531</text>
<polygon points="285.80,226.93 283.40,222.76 288.20,222.76" fill="#fff" stroke="#e46ef5" stroke-width="0.6" stroke-linejoin="miter"/>
<text x="296.70" y="227.17" font-size="7.15" font-weight="normal" fill="#111" >Ti-6Al-2Mo-4Cr-2Fe</text>
<circle cx="370.20" cy="224.60" r="2.03" fill="#fff" stroke="#e46ef5" stroke-width="0.6"/>
<path d="M368.18,224.30 A2.03,2.03 0 0 1 372.22,224.30 Z" fill="#e46ef5"/>
<text x="380.60" y="227.17" font-size="7.15" font-weight="normal" fill="#111" textLength="62.2" lengthAdjust="spacingAndGlyphs" >Ti-5Al-4Zr-8Mo-7V</text>
<rect x="238.15" y="231.55" width="3.90" height="3.90" fill="#fff" stroke="#e46ef5" stroke-width="0.6"/>
<text x="250.50" y="236.07" font-size="7.15" font-weight="normal" fill="#111" >Ti-55521</text>
<circle cx="285.80" cy="233.50" r="2.03" fill="#e46ef5"/>
<text x="296.70" y="236.07" font-size="7.15" font-weight="normal" fill="#111" >TC4-1.9Mo-1.9Fe</text>
<polygon points="366.80,230.88 369.43,233.50 366.80,236.12 364.18,233.50" fill="#fff" stroke="#e46ef5" stroke-width="0.6"/>
<line x1="365.49" y1="232.19" x2="368.11" y2="234.81" stroke="#e46ef5" stroke-width="0.48" />
<line x1="365.49" y1="234.81" x2="368.11" y2="232.19" stroke="#e46ef5" stroke-width="0.48" />
<line x1="366.80" y1="230.88" x2="366.80" y2="236.12" stroke="#e46ef5" stroke-width="0.48" />
<line x1="364.18" y1="233.50" x2="369.43" y2="233.50" stroke="#e46ef5" stroke-width="0.48" />
<text x="377.40" y="236.07" font-size="7.15" font-weight="normal" fill="#111" textLength="56.9" lengthAdjust="spacingAndGlyphs" >Ti-Al-Mo-V-Cr-Nb</text>
<polygon points="240.10,239.57 242.72,242.20 240.10,244.82 237.47,242.20" fill="#e46ef5"/>
<text x="250.50" y="244.77" font-size="7.15" font-weight="normal" fill="#111" >Ti-5553-0.1B</text>
<polygon points="299.50,239.57 302.12,242.20 299.50,244.82 296.88,242.20" fill="#fff" stroke="#e46ef5" stroke-width="0.6"/>
<text x="309.90" y="244.77" font-size="7.15" font-weight="normal" fill="#111" >Ti-1Al-8V-5Fe</text>
<circle cx="362.60" cy="242.20" r="2.03" fill="#fff" stroke="#e46ef5" stroke-width="0.6"/>
<path d="M360.58,241.90 A2.03,2.03 0 0 1 364.62,241.90 Z" fill="#e46ef5"/>
<text x="373.00" y="244.77" font-size="7.15" font-weight="normal" fill="#111" textLength="45.9" lengthAdjust="spacingAndGlyphs" >Ti-Nb-Zr-Ta-Si</text>
<text x="453.60" y="245.60" font-size="12.5" font-weight="bold" fill="#000" >c</text>
<rect x="229.00" y="259.70" width="234.40" height="92.30" stroke="#8fcb5e" stroke-width="1.3" fill="none"/>
<text x="319.30" y="257.00" font-size="8.1" font-weight="normal" fill="#62b02c" textLength="54.9" lengthAdjust="spacingAndGlyphs" >High-O Ti alloys</text>
<rect x="234.83" y="263.53" width="3.74" height="3.74" fill="#74ba38"/>
<text x="245.40" y="268.14" font-size="7.6" font-weight="normal" fill="#111" >Ti-0.30O</text>
<circle cx="280.70" cy="265.40" r="1.94" fill="#74ba38"/>
<text x="289.20" y="268.14" font-size="7.6" font-weight="normal" fill="#111" >Ti-0.32O</text>
<polygon points="325.00,263.17 327.31,267.16 322.69,267.16" fill="#fff" stroke="#74ba38" stroke-width="0.6" stroke-linejoin="miter"/>
<text x="332.50" y="268.14" font-size="7.6" font-weight="normal" fill="#111" >Ti-0.37O</text>
<polygon points="368.80,263.17 371.11,267.16 366.49,267.16" fill="#74ba38" stroke-linejoin="miter"/>
<text x="377.00" y="268.14" font-size="7.6" font-weight="normal" fill="#111" >Ti-0.67O</text>
<polygon points="236.70,276.83 234.39,272.84 239.01,272.84" fill="#74ba38" stroke-linejoin="miter"/>
<text x="245.40" y="277.34" font-size="7.6" font-weight="normal" fill="#111" >TC4-0.22O</text>
<polygon points="289.20,272.08 291.72,274.60 289.20,277.12 286.68,274.60" fill="#74ba38"/>
<text x="297.60" y="277.34" font-size="7.6" font-weight="normal" fill="#111" >TC4-0.23O</text>
<circle cx="341.00" cy="274.60" r="1.94" fill="#74ba38"/>
<text x="349.50" y="277.34" font-size="7.6" font-weight="normal" fill="#111" >TC4-0.25O</text>
<rect x="391.63" y="272.73" width="3.74" height="3.74" fill="#74ba38"/>
<text x="401.70" y="277.34" font-size="7.6" font-weight="normal" fill="#111" >TC4-0.50O</text>
<circle cx="236.70" cy="283.80" r="1.94" fill="#fff" stroke="#74ba38" stroke-width="0.6"/>
<path d="M234.76,283.50 A1.94,1.94 0 0 1 238.64,283.50 Z" fill="#74ba38"/>
<text x="245.40" y="286.54" font-size="7.6" font-weight="normal" fill="#111" >TC4-0.52O</text>
<circle cx="288.80" cy="282.72" r="1.08" fill="#74ba38"/>
<circle cx="287.72" cy="284.16" r="1.08" fill="#74ba38"/>
<circle cx="289.88" cy="284.16" r="1.08" fill="#74ba38"/>
<line x1="288.80" y1="283.80" x2="288.80" y2="286.10" stroke="#74ba38" stroke-width="0.648" />
<line x1="287.72" y1="285.96" x2="289.88" y2="285.96" stroke="#74ba38" stroke-width="0.648" />
<text x="297.60" y="286.54" font-size="7.6" font-weight="normal" fill="#111" >Ti-10Mo-0.30O</text>
<circle cx="354.60" cy="282.72" r="1.08" fill="#74ba38"/>
<circle cx="353.52" cy="284.16" r="1.08" fill="#74ba38"/>
<circle cx="355.68" cy="284.16" r="1.08" fill="#74ba38"/>
<line x1="354.60" y1="283.80" x2="354.60" y2="286.10" stroke="#74ba38" stroke-width="0.648" />
<line x1="353.52" y1="285.96" x2="355.68" y2="285.96" stroke="#74ba38" stroke-width="0.648" />
<text x="363.20" y="286.54" font-size="7.6" font-weight="normal" fill="#111" >Ti-10Mo-0.40O</text>
<rect x="234.83" y="291.13" width="3.74" height="3.74" fill="#fff" stroke="#74ba38" stroke-width="0.6"/>
<rect x="234.83" y="291.13" width="3.74" height="1.87" fill="#74ba38"/>
<text x="245.40" y="295.74" font-size="7.6" font-weight="normal" fill="#111" >Ti-0.96Fe-0.30O</text>
<polygon points="307.10,290.77 309.41,294.76 304.79,294.76" fill="#fff" stroke="#74ba38" stroke-width="0.6" stroke-linejoin="miter"/>
<polygon points="307.10,290.77 309.41,294.76 304.79,294.76" fill="#74ba38" clip-path="none" opacity="0"/>
<polygon points="307.10,290.77 308.43,293.07 305.77,293.07" fill="#74ba38"/>
<text x="315.60" y="295.74" font-size="7.6" font-weight="normal" fill="#111" >Ti-3.12Fe-0.32O</text>
<polygon points="377.60,295.23 375.29,291.24 379.91,291.24" fill="#fff" stroke="#74ba38" stroke-width="0.6" stroke-linejoin="miter"/>
<line x1="375.47" y1="291.64" x2="379.73" y2="291.64" stroke="#74ba38" stroke-width="0.864" />
<text x="386.50" y="295.74" font-size="7.6" font-weight="normal" fill="#111" >Ti-3.11Fe-0.33O</text>
<rect x="234.83" y="300.23" width="3.74" height="3.74" fill="#74ba38"/>
<text x="245.40" y="304.84" font-size="7.6" font-weight="normal" fill="#111" >Ti-3.25Fe-0.34O</text>
<rect x="305.23" y="300.23" width="3.74" height="3.74" fill="#fff" stroke="#74ba38" stroke-width="0.6"/>
<line x1="305.23" y1="302.10" x2="308.97" y2="302.10" stroke="#74ba38" stroke-width="0.48" />
<line x1="307.10" y1="300.23" x2="307.10" y2="303.97" stroke="#74ba38" stroke-width="0.48" />
<text x="315.60" y="304.84" font-size="7.6" font-weight="normal" fill="#111" >Ti-3.32Fe-0.35O</text>
<circle cx="377.60" cy="302.10" r="1.94" fill="#fff" stroke="#74ba38" stroke-width="0.6"/>
<path d="M375.66,301.80 A1.94,1.94 0 0 1 379.54,301.80 Z" fill="#74ba38"/>
<text x="386.50" y="304.84" font-size="7.6" font-weight="normal" fill="#111" >Ti-0.91Fe-0.37O</text>
<path d="M234.68,309.28 L238.72,313.32 M234.68,313.32 L238.72,309.28 M234.68,309.28 L238.72,309.28 M234.68,313.32 L238.72,313.32" stroke="#74ba38" stroke-width="0.66" fill="none"/>
<circle cx="236.70" cy="311.30" r="1.51" fill="none" stroke="#74ba38" stroke-width="0.48"/>
<text x="245.40" y="314.04" font-size="7.6" font-weight="normal" fill="#111" >Ti-3.17Fe-0.50O</text>
<path d="M305.08,309.28 L309.12,313.32 M305.08,313.32 L309.12,309.28 M305.08,309.28 L309.12,309.28 M305.08,313.32 L309.12,313.32" stroke="#74ba38" stroke-width="0.66" fill="none"/>
<circle cx="307.10" cy="311.30" r="1.51" fill="none" stroke="#74ba38" stroke-width="0.48"/>
<text x="315.60" y="314.04" font-size="7.6" font-weight="normal" fill="#111" >Ti-3.30Fe-0.67O</text>
<rect x="375.73" y="309.43" width="3.74" height="3.74" fill="#fff" stroke="#74ba38" stroke-width="0.6"/>
<text x="386.50" y="314.04" font-size="7.6" font-weight="normal" fill="#111" >Ti-8Nb-2Fe-0.66O</text>
<circle cx="236.70" cy="320.40" r="1.94" fill="#fff" stroke="#74ba38" stroke-width="0.6"/>
<text x="245.40" y="323.14" font-size="7.6" font-weight="normal" fill="#111" >Ti-32Nb-0.7O</text>
<polygon points="297.60,317.88 300.12,320.40 297.60,322.92 295.08,320.40" fill="#fff" stroke="#74ba38" stroke-width="0.6"/>
<text x="306.10" y="323.14" font-size="7.6" font-weight="normal" fill="#111" >Ti-34Nb-2Ta-0.5O</text>
<polygon points="373.80,322.63 371.49,318.64 376.11,318.64" fill="#fff" stroke="#74ba38" stroke-width="0.6" stroke-linejoin="miter"/>
<text x="382.70" y="323.14" font-size="7.6" font-weight="normal" fill="#111" textLength="75" lengthAdjust="spacingAndGlyphs" >Ti-34Nb-2Ta-3Zr-0.5O</text>
<polygon points="239.13,328.30 235.14,330.61 235.14,325.99" fill="#fff" stroke="#74ba38" stroke-width="0.6" stroke-linejoin="miter"/>
<text x="245.10" y="331.04" font-size="7.6" font-weight="normal" fill="#111" >Ti-2.8Cr-4.5Zr-5.2Al-0.5O</text>
<polygon points="335.10,326.07 337.41,330.06 332.79,330.06" fill="#fff" stroke="#74ba38" stroke-width="0.6" stroke-linejoin="miter"/>
<polygon points="335.10,326.07 337.41,330.06 332.79,330.06" fill="#74ba38" clip-path="none" opacity="0"/>
<polygon points="335.10,326.07 336.43,328.37 333.77,328.37" fill="#74ba38"/>
<text x="343.90" y="331.04" font-size="7.6" font-weight="normal" fill="#111" textLength="75.6" lengthAdjust="spacingAndGlyphs" >Ti-2.18Al-2.43Zr-0.62O</text>
<rect x="235.03" y="335.13" width="3.74" height="3.74" fill="#fff" stroke="#74ba38" stroke-width="0.6"/>
<rect x="235.03" y="335.13" width="3.74" height="1.87" fill="#74ba38"/>
<text x="245.10" y="339.74" font-size="7.6" font-weight="normal" fill="#111" textLength="78" lengthAdjust="spacingAndGlyphs" >Ti-2.18Al-2.43Zr-0.30O</text>
<polygon points="337.33,337.00 336.22,338.93 333.98,338.93 332.87,337.00 333.98,335.07 336.22,335.07" fill="#fff" stroke="#74ba38" stroke-width="0.6"/>
<line x1="332.94" y1="337.00" x2="337.26" y2="337.00" stroke="#74ba38" stroke-width="0.48" />
<line x1="335.10" y1="335.06" x2="335.10" y2="338.94" stroke="#74ba38" stroke-width="0.48" />
<text x="343.90" y="339.74" font-size="7.6" font-weight="normal" fill="#111" textLength="75.6" lengthAdjust="spacingAndGlyphs" >Ti-2.18Al-2.43Zr-0.70O</text>
<circle cx="236.90" cy="345.80" r="1.94" fill="#fff" stroke="#74ba38" stroke-width="0.6"/>
<line x1="234.96" y1="345.80" x2="238.84" y2="345.80" stroke="#74ba38" stroke-width="0.48" />
<line x1="236.90" y1="343.86" x2="236.90" y2="347.74" stroke="#74ba38" stroke-width="0.48" />
<text x="245.10" y="348.54" font-size="7.6" font-weight="normal" fill="#111" textLength="78" lengthAdjust="spacingAndGlyphs" >Ti-2.18Al-2.43Zr-0.35O</text>
<rect x="333.23" y="343.93" width="3.74" height="3.74" fill="#fff" stroke="#74ba38" stroke-width="0.6"/>
<line x1="333.23" y1="345.80" x2="336.97" y2="345.80" stroke="#74ba38" stroke-width="0.48" />
<line x1="335.10" y1="343.93" x2="335.10" y2="347.67" stroke="#74ba38" stroke-width="0.48" />
<text x="343.90" y="348.54" font-size="7.6" font-weight="normal" fill="#111" textLength="75.6" lengthAdjust="spacingAndGlyphs" >Ti-2.18Al-2.43Zr-0.78O</text>
<text x="453.40" y="349.30" font-size="12.5" font-weight="bold" fill="#000" >c</text>
<rect x="229.20" y="361.40" width="234.10" height="59.00" stroke="#3434f0" stroke-width="1.3" fill="none"/>
<circle cx="236.90" cy="366.70" r="2.56" fill="#fff" stroke="#e46ef5" stroke-width="0.6"/>
<path d="M234.34,366.40 A2.56,2.56 0 0 1 239.47,366.40 Z" fill="#e46ef5"/>
<text x="246.90" y="369.22" font-size="7.0" font-weight="normal" fill="#111" >TC4</text>
<circle cx="270.90" cy="366.70" r="2.56" fill="#ff1a1a"/>
<text x="280.70" y="369.22" font-size="7.0" font-weight="normal" fill="#111" >TC11</text>
<polygon points="307.70,363.75 310.74,369.03 304.66,369.03" fill="#1010ff" stroke-linejoin="miter"/>
<text x="317.50" y="369.22" font-size="7.0" font-weight="normal" fill="#111" >TC12</text>
<circle cx="344.30" cy="366.70" r="2.56" fill="#fff" stroke="#86c44c" stroke-width="0.6"/>
<text x="354.50" y="369.22" font-size="7.0" font-weight="normal" fill="#111" >Ti-6246</text>
<polygon points="388.90,363.75 391.94,369.03 385.86,369.03" fill="#fff" stroke="#777777" stroke-width="0.6" stroke-linejoin="miter"/>
<text x="399.10" y="369.22" font-size="7.0" font-weight="normal" fill="#111" >Ti-6242S</text>
<polygon points="236.90,377.75 233.86,372.47 239.94,372.47" fill="#33e600" stroke-linejoin="miter"/>
<text x="246.90" y="377.32" font-size="7.0" font-weight="normal" fill="#111" >TC17</text>
<polygon points="271.40,371.48 274.72,374.80 271.40,378.12 268.07,374.80" fill="#ff33ff"/>
<text x="280.70" y="377.32" font-size="7.0" font-weight="normal" fill="#111" >TC21</text>
<polygon points="304.75,374.80 310.03,371.76 310.03,377.84" fill="#c9a032" stroke-linejoin="miter"/>
<text x="317.50" y="377.32" font-size="7.0" font-weight="normal" fill="#111" >Ti-80</text>
<polygon points="344.30,377.75 341.26,372.47 347.34,372.47" fill="#fff" stroke="#ff3b3b" stroke-width="0.6" stroke-linejoin="miter"/>
<text x="354.50" y="377.32" font-size="7.0" font-weight="normal" fill="#111" >Ti-8823</text>
<polygon points="388.90,371.48 392.22,374.80 388.90,378.12 385.57,374.80" fill="#fff" stroke="#3c7cf0" stroke-width="0.6"/>
<text x="399.10" y="377.32" font-size="7.0" font-weight="normal" fill="#111" >Ti-55511</text>
<polygon points="239.84,382.90 234.57,385.94 234.57,379.86" fill="#4ed8d8" stroke-linejoin="miter"/>
<text x="246.90" y="385.42" font-size="7.0" font-weight="normal" fill="#111" >BT25</text>
<polygon points="271.40,379.95 274.44,385.23 268.36,385.23" fill="#fff" stroke="#a4b04a" stroke-width="0.6" stroke-linejoin="miter"/>
<line x1="271.40" y1="379.95" x2="271.40" y2="386.37" stroke="#a4b04a" stroke-width="0.6" />
<text x="280.70" y="385.42" font-size="7.0" font-weight="normal" fill="#111" >Ti-812</text>
<polygon points="310.34,382.90 308.87,385.45 305.93,385.45 304.45,382.90 305.93,380.35 308.87,380.35" fill="#6e4848"/>
<text x="317.50" y="385.42" font-size="7.0" font-weight="normal" fill="#111" >Ti-600</text>
<polygon points="341.36,382.90 346.63,379.86 346.63,385.94" fill="#fff" stroke="#4cc070" stroke-width="0.6" stroke-linejoin="miter"/>
<text x="354.50" y="385.42" font-size="7.0" font-weight="normal" fill="#111" >Ti-55531</text>
<circle cx="388.90" cy="382.90" r="2.56" fill="#fff" stroke="#c07ef0" stroke-width="0.6"/>
<text x="399.10" y="385.42" font-size="7.0" font-weight="normal" fill="#111" >Ti-4Al-2.5V</text>
<polygon points="236.90,387.10 237.84,389.61 240.51,389.73 238.42,391.39 239.13,393.97 236.90,392.50 234.67,393.97 235.38,391.39 233.29,389.73 235.96,389.61" fill="#8a8a2e"/>
<text x="246.90" y="393.42" font-size="7.0" font-weight="normal" fill="#111" >Ti-811</text>
<polygon points="274.90,387.67 277.97,389.90 276.80,393.51 273.00,393.51 271.83,389.90" fill="#ff6620"/>
<text x="284.60" y="393.42" font-size="7.0" font-weight="normal" fill="#111" >Ti-15-3</text>
<rect x="312.23" y="388.43" width="4.94" height="4.94" fill="#fff" stroke="#b0b040" stroke-width="0.6"/>
<text x="324.90" y="393.42" font-size="7.0" font-weight="normal" fill="#111" >Ti-1023</text>
<rect x="353.73" y="388.43" width="4.94" height="4.94" fill="#fff" stroke="#000" stroke-width="0.6"/>
<rect x="353.73" y="388.43" width="4.94" height="2.47" fill="#000"/>
<text x="366.80" y="393.42" font-size="7.0" font-weight="normal" fill="#111" textLength="71.9" lengthAdjust="spacingAndGlyphs" >Ti-4Al-6Mo-2V-5Cr-2Zr</text>
<polygon points="237.60,395.57 240.92,398.90 237.60,402.22 234.28,398.90" fill="#fff" stroke="#f07848" stroke-width="0.6"/>
<line x1="235.94" y1="397.24" x2="239.26" y2="400.56" stroke="#f07848" stroke-width="0.48" />
<line x1="235.94" y1="400.56" x2="239.26" y2="397.24" stroke="#f07848" stroke-width="0.48" />
<line x1="237.60" y1="395.57" x2="237.60" y2="402.22" stroke="#f07848" stroke-width="0.48" />
<line x1="234.28" y1="398.90" x2="240.92" y2="398.90" stroke="#f07848" stroke-width="0.48" />
<text x="246.90" y="401.42" font-size="7.0" font-weight="normal" fill="#111" >Ti-35Nb-7Zr-5Ta</text>
<polygon points="308.14,398.90 306.67,401.45 303.73,401.45 302.25,398.90 303.73,396.35 306.67,396.35" fill="#fff" stroke="#9cc0ec" stroke-width="0.6"/>
<line x1="302.35" y1="398.90" x2="308.05" y2="398.90" stroke="#9cc0ec" stroke-width="0.48" />
<line x1="305.20" y1="396.33" x2="305.20" y2="401.46" stroke="#9cc0ec" stroke-width="0.48" />
<text x="314.70" y="401.42" font-size="7.0" font-weight="normal" fill="#111" >Ti-6Al-2Zr-1Mo-1V</text>
<polygon points="378.00,395.10 378.94,397.61 381.61,397.73 379.52,399.39 380.23,401.97 378.00,400.50 375.77,401.97 376.48,399.39 374.39,397.73 377.06,397.61" fill="#d0a440"/>
<text x="387.20" y="401.42" font-size="7.0" font-weight="normal" fill="#111" >Ti-5Al-7.5V</text>
<rect x="235.13" y="404.53" width="4.94" height="4.94" fill="#fff" stroke="#6ee6e6" stroke-width="0.6"/>
<line x1="235.13" y1="407.00" x2="240.07" y2="407.00" stroke="#6ee6e6" stroke-width="0.48" />
<line x1="237.60" y1="407.00" x2="237.60" y2="409.47" stroke="#6ee6e6" stroke-width="0.48" />
<line x1="235.13" y1="406.26" x2="240.07" y2="406.26" stroke="#6ee6e6" stroke-width="0.36" />
<text x="246.90" y="409.52" font-size="7.0" font-weight="normal" fill="#111" textLength="86.7" lengthAdjust="spacingAndGlyphs" >Ti-5Al-4Mo-4Zr-2Sn-2Cr-1Fe</text>
<polygon points="237.60,411.40 238.54,413.91 241.21,414.03 239.12,415.69 239.83,418.27 237.60,416.80 235.37,418.27 236.08,415.69 233.99,414.03 236.66,413.91" fill="#78cc3c"/>
<text x="246.90" y="417.72" font-size="7.0" font-weight="normal" fill="#111" textLength="138.3" lengthAdjust="spacingAndGlyphs" >Ti-5.8Al-4Sn-3.5Zr-0.7Nb-0.5Mo-0.35Si-0.06C</text>
<text x="453.30" y="418.90" font-size="12.5" font-weight="bold" fill="#000" >e</text>
</g></svg>
</body></html>
